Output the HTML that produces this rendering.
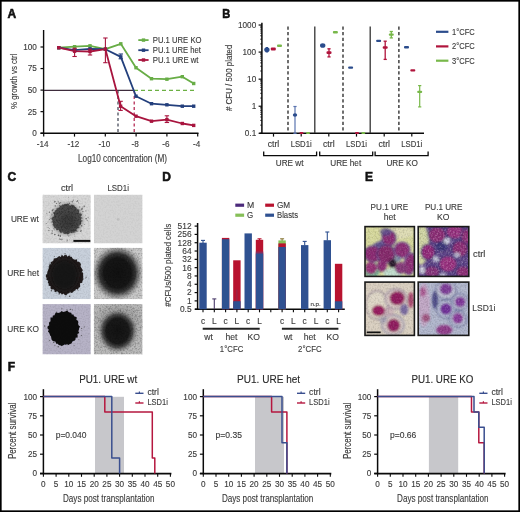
<!DOCTYPE html>
<html><head><meta charset="utf-8"><title>Figure</title>
<style>html,body{margin:0;padding:0;background:#fff;width:520px;height:512px;overflow:hidden}svg{display:block;filter:blur(0.25px)}</style></head>
<body>
<svg width="520" height="512" viewBox="0 0 520 512" font-family='"Liberation Sans", sans-serif'>
<defs>
<filter id="noise" x="0" y="0" width="100%" height="100%"><feTurbulence type="fractalNoise" baseFrequency="0.6" numOctaves="2" seed="3"/><feColorMatrix type="matrix" values="0 0 0 0 0  0 0 0 0 0  0 0 0 0 0  0 0 0 -2.6 1.5"/><feGaussianBlur stdDeviation="0.35"/></filter>
<filter id="noiseW" x="0" y="0" width="100%" height="100%"><feTurbulence type="fractalNoise" baseFrequency="0.6" numOctaves="2" seed="7"/><feColorMatrix type="matrix" values="0 0 0 0 1  0 0 0 0 1  0 0 0 0 1  0 0 0 -2.4 1.3"/><feGaussianBlur stdDeviation="0.4"/></filter>
<filter id="rough" x="-30%" y="-30%" width="160%" height="160%"><feTurbulence type="fractalNoise" baseFrequency="0.25" numOctaves="2" seed="11" result="t"/><feDisplacementMap in="SourceGraphic" in2="t" scale="5" xChannelSelector="R" yChannelSelector="G"/><feGaussianBlur stdDeviation="0.5"/></filter>
<filter id="rough2" x="-30%" y="-30%" width="160%" height="160%"><feTurbulence type="fractalNoise" baseFrequency="0.4" numOctaves="2" seed="5" result="t"/><feDisplacementMap in="SourceGraphic" in2="t" scale="3.5" xChannelSelector="R" yChannelSelector="G"/><feGaussianBlur stdDeviation="0.4"/></filter>
<filter id="b05"><feGaussianBlur stdDeviation="0.5"/></filter>
<filter id="b1"><feGaussianBlur stdDeviation="1"/></filter>
<filter id="b15"><feGaussianBlur stdDeviation="1.5"/></filter>
<filter id="b2"><feGaussianBlur stdDeviation="2"/></filter>
<filter id="b3"><feGaussianBlur stdDeviation="3"/></filter>
<radialGradient id="g11"><stop offset="0" stop-color="#353535" stop-opacity="1"/><stop offset="0.55" stop-color="#3e3e3e" stop-opacity="1"/><stop offset="0.72" stop-color="#5a5a5a" stop-opacity="0.9"/><stop offset="0.88" stop-color="#8a8a8a" stop-opacity="0.5"/><stop offset="1" stop-color="#d5d5d5" stop-opacity="0"/></radialGradient>
<radialGradient id="g22"><stop offset="0" stop-color="#111" stop-opacity="1"/><stop offset="0.52" stop-color="#161616" stop-opacity="1"/><stop offset="0.68" stop-color="#2e2e2e" stop-opacity="0.95"/><stop offset="0.84" stop-color="#6a6a6a" stop-opacity="0.55"/><stop offset="1" stop-color="#b8b8b8" stop-opacity="0"/></radialGradient>
<radialGradient id="g32"><stop offset="0" stop-color="#121212" stop-opacity="1"/><stop offset="0.55" stop-color="#1a1a1a" stop-opacity="1"/><stop offset="0.72" stop-color="#3a3a3a" stop-opacity="0.85"/><stop offset="0.88" stop-color="#808080" stop-opacity="0.4"/><stop offset="1" stop-color="#b0b0b0" stop-opacity="0"/></radialGradient>
<clipPath id="cc0"><rect x="42.4" y="194.6" width="48.4" height="48.9"/></clipPath>
<clipPath id="cc1"><rect x="93.8" y="194.6" width="48.8" height="48.9"/></clipPath>
<clipPath id="cc2"><rect x="42.4" y="247.8" width="48.4" height="51.4"/></clipPath>
<clipPath id="cc3"><rect x="93.8" y="247.8" width="48.8" height="51.4"/></clipPath>
<clipPath id="cc4"><rect x="42.4" y="304.1" width="48.4" height="50.4"/></clipPath>
<clipPath id="cc5"><rect x="93.8" y="304.1" width="48.8" height="50.4"/></clipPath>
<clipPath id="blob11"><circle cx="67" cy="219.2" r="15"/></clipPath>
<clipPath id="ec0"><rect x="365" y="226.6" width="49.4" height="49.8"/></clipPath>
<clipPath id="ec1"><rect x="418.2" y="226.6" width="50.6" height="49.8"/></clipPath>
<clipPath id="ec2"><rect x="365" y="282.1" width="49.4" height="53.3"/></clipPath>
<clipPath id="ec3"><rect x="418.2" y="282.1" width="50.6" height="53.3"/></clipPath>
</defs>
<rect width="520" height="512" fill="#fff"/>
<text x="7.6" y="17.8" font-size="12" font-weight="bold" fill="#111" stroke="#111" stroke-width="0.55">A</text>
<line x1="43.6" y1="30" x2="43.6" y2="133.5" stroke="#0a0a0a" stroke-width="1.4"/>
<line x1="40.5" y1="133.2" x2="198.5" y2="133.2" stroke="#0a0a0a" stroke-width="1.6"/>
<line x1="40.5" y1="133.2" x2="44" y2="133.2" stroke="#0a0a0a" stroke-width="1.2"/>
<text x="36.8" y="136.1" font-size="8.2" text-anchor="end" fill="#3a3a3a" stroke="#3a3a3a" stroke-width="0.12">0</text>
<line x1="40.5" y1="111.64999999999999" x2="44" y2="111.64999999999999" stroke="#0a0a0a" stroke-width="1.2"/>
<text x="36.8" y="114.55" font-size="8.2" text-anchor="end" fill="#3a3a3a" stroke="#3a3a3a" stroke-width="0.12">25</text>
<line x1="40.5" y1="90.1" x2="44" y2="90.1" stroke="#0a0a0a" stroke-width="1.2"/>
<text x="36.8" y="93.0" font-size="8.2" text-anchor="end" fill="#3a3a3a" stroke="#3a3a3a" stroke-width="0.12">50</text>
<line x1="40.5" y1="68.54999999999998" x2="44" y2="68.54999999999998" stroke="#0a0a0a" stroke-width="1.2"/>
<text x="36.8" y="71.44999999999999" font-size="8.2" text-anchor="end" fill="#3a3a3a" stroke="#3a3a3a" stroke-width="0.12">75</text>
<line x1="40.5" y1="46.999999999999986" x2="44" y2="46.999999999999986" stroke="#0a0a0a" stroke-width="1.2"/>
<text x="36.8" y="49.899999999999984" font-size="8.2" text-anchor="end" fill="#3a3a3a" stroke="#3a3a3a" stroke-width="0.12">100</text>
<line x1="43.7" y1="133" x2="43.7" y2="136.6" stroke="#0a0a0a" stroke-width="1.2"/>
<text x="42.7" y="147.2" font-size="8.2" text-anchor="middle" fill="#3a3a3a" stroke="#3a3a3a" stroke-width="0.12">-14</text>
<line x1="74.5" y1="133" x2="74.5" y2="136.6" stroke="#0a0a0a" stroke-width="1.2"/>
<text x="73.5" y="147.2" font-size="8.2" text-anchor="middle" fill="#3a3a3a" stroke="#3a3a3a" stroke-width="0.12">-12</text>
<line x1="105.30000000000001" y1="133" x2="105.30000000000001" y2="136.6" stroke="#0a0a0a" stroke-width="1.2"/>
<text x="104.30000000000001" y="147.2" font-size="8.2" text-anchor="middle" fill="#3a3a3a" stroke="#3a3a3a" stroke-width="0.12">-10</text>
<line x1="136.10000000000002" y1="133" x2="136.10000000000002" y2="136.6" stroke="#0a0a0a" stroke-width="1.2"/>
<text x="135.10000000000002" y="147.2" font-size="8.2" text-anchor="middle" fill="#3a3a3a" stroke="#3a3a3a" stroke-width="0.12">-8</text>
<line x1="166.9" y1="133" x2="166.9" y2="136.6" stroke="#0a0a0a" stroke-width="1.2"/>
<text x="165.9" y="147.2" font-size="8.2" text-anchor="middle" fill="#3a3a3a" stroke="#3a3a3a" stroke-width="0.12">-6</text>
<line x1="197.7" y1="133" x2="197.7" y2="136.6" stroke="#0a0a0a" stroke-width="1.2"/>
<text x="196.7" y="147.2" font-size="8.2" text-anchor="middle" fill="#3a3a3a" stroke="#3a3a3a" stroke-width="0.12">-4</text>
<text x="78" y="161.7" font-size="10.2" textLength="89" lengthAdjust="spacingAndGlyphs" fill="#3a3a3a" stroke="#3a3a3a" stroke-width="0.12">Log10 concentration (M)</text>
<text x="17.2" y="109" font-size="9" textLength="55.5" lengthAdjust="spacingAndGlyphs" transform="rotate(-90 17.2 109)" fill="#3a3a3a" stroke="#3a3a3a" stroke-width="0.12">% growth vs ctrl</text>
<line x1="44" y1="90.4" x2="134" y2="90.4" stroke="#3e2c3c" stroke-width="1.3"/>
<line x1="134" y1="90.4" x2="196.5" y2="90.4" stroke="#6cb043" stroke-width="1.2" stroke-dasharray="4 3"/>
<line x1="118" y1="90.4" x2="118" y2="133" stroke="#3b3f4f" stroke-width="1.2" stroke-dasharray="3 2.5"/>
<line x1="134.2" y1="90.4" x2="134.2" y2="133" stroke="#b01b48" stroke-width="1.2" stroke-dasharray="3 2.5"/>
<polyline points="58.8,47.7 74.6,46.7 90.0,45.8 105.4,49.2 120.8,43.8 136.0,67.7 151.5,78.7 166.9,79.2 182.3,76.7 193.7,83.5" fill="none" stroke="#68ad46" stroke-width="1.8" stroke-linejoin="round"/>
<polyline points="58.8,47.7 74.6,50.2 90.0,48.8 105.4,49.2 120.8,56.9 136.0,96.2 151.5,103.7 166.9,104.8 182.3,106.2 193.7,106.2" fill="none" stroke="#233f7c" stroke-width="1.8" stroke-linejoin="round"/>
<polyline points="58.8,47.7 74.6,51.2 90.0,51.5 105.4,49.2 120.6,106.2 136.0,116.2 151.5,121.2 166.9,119.6 182.3,123.5 193.7,125.4" fill="none" stroke="#a8143e" stroke-width="1.8" stroke-linejoin="round"/>
<rect x="57.099999999999994" y="46.0" width="3.4" height="3.4" fill="#68ad46"/>
<rect x="72.89999999999999" y="45.0" width="3.4" height="3.4" fill="#68ad46"/>
<rect x="88.3" y="44.099999999999994" width="3.4" height="3.4" fill="#68ad46"/>
<rect x="103.7" y="47.5" width="3.4" height="3.4" fill="#68ad46"/>
<rect x="119.1" y="42.099999999999994" width="3.4" height="3.4" fill="#68ad46"/>
<rect x="134.3" y="66.0" width="3.4" height="3.4" fill="#68ad46"/>
<rect x="149.8" y="77.0" width="3.4" height="3.4" fill="#68ad46"/>
<rect x="165.20000000000002" y="77.5" width="3.4" height="3.4" fill="#68ad46"/>
<rect x="180.60000000000002" y="75.0" width="3.4" height="3.4" fill="#68ad46"/>
<rect x="192.0" y="81.8" width="3.4" height="3.4" fill="#68ad46"/>
<rect x="57.099999999999994" y="46.0" width="3.4" height="3.4" fill="#233f7c"/>
<rect x="72.89999999999999" y="48.5" width="3.4" height="3.4" fill="#233f7c"/>
<rect x="88.3" y="47.099999999999994" width="3.4" height="3.4" fill="#233f7c"/>
<rect x="103.7" y="47.5" width="3.4" height="3.4" fill="#233f7c"/>
<rect x="119.1" y="55.199999999999996" width="3.4" height="3.4" fill="#233f7c"/>
<rect x="134.3" y="94.5" width="3.4" height="3.4" fill="#233f7c"/>
<rect x="149.8" y="102.0" width="3.4" height="3.4" fill="#233f7c"/>
<rect x="165.20000000000002" y="103.1" width="3.4" height="3.4" fill="#233f7c"/>
<rect x="180.60000000000002" y="104.5" width="3.4" height="3.4" fill="#233f7c"/>
<rect x="192.0" y="104.5" width="3.4" height="3.4" fill="#233f7c"/>
<rect x="57.099999999999994" y="46.0" width="3.4" height="3.4" fill="#a8143e"/>
<rect x="72.89999999999999" y="49.5" width="3.4" height="3.4" fill="#a8143e"/>
<rect x="88.3" y="49.8" width="3.4" height="3.4" fill="#a8143e"/>
<rect x="103.7" y="47.5" width="3.4" height="3.4" fill="#a8143e"/>
<rect x="118.89999999999999" y="104.5" width="3.4" height="3.4" fill="#a8143e"/>
<rect x="134.3" y="114.5" width="3.4" height="3.4" fill="#a8143e"/>
<rect x="149.8" y="119.5" width="3.4" height="3.4" fill="#a8143e"/>
<rect x="165.20000000000002" y="117.89999999999999" width="3.4" height="3.4" fill="#a8143e"/>
<rect x="180.60000000000002" y="121.8" width="3.4" height="3.4" fill="#a8143e"/>
<rect x="192.0" y="123.7" width="3.4" height="3.4" fill="#a8143e"/>
<line x1="74.6" y1="48.3" x2="74.6" y2="56.5" stroke="#a8143e" stroke-width="1.1"/>
<line x1="72.39999999999999" y1="48.3" x2="76.8" y2="48.3" stroke="#a8143e" stroke-width="1.1"/>
<line x1="72.39999999999999" y1="56.5" x2="76.8" y2="56.5" stroke="#a8143e" stroke-width="1.1"/>
<line x1="90" y1="49.2" x2="90" y2="55" stroke="#a8143e" stroke-width="1.1"/>
<line x1="87.8" y1="49.2" x2="92.2" y2="49.2" stroke="#a8143e" stroke-width="1.1"/>
<line x1="87.8" y1="55" x2="92.2" y2="55" stroke="#a8143e" stroke-width="1.1"/>
<line x1="105.4" y1="38" x2="105.4" y2="62.7" stroke="#a8143e" stroke-width="1.1"/>
<line x1="103.2" y1="38" x2="107.60000000000001" y2="38" stroke="#a8143e" stroke-width="1.1"/>
<line x1="103.2" y1="62.7" x2="107.60000000000001" y2="62.7" stroke="#a8143e" stroke-width="1.1"/>
<line x1="120.6" y1="101.3" x2="120.6" y2="110.4" stroke="#a8143e" stroke-width="1.1"/>
<line x1="118.39999999999999" y1="101.3" x2="122.8" y2="101.3" stroke="#a8143e" stroke-width="1.1"/>
<line x1="118.39999999999999" y1="110.4" x2="122.8" y2="110.4" stroke="#a8143e" stroke-width="1.1"/>
<line x1="166.9" y1="115.8" x2="166.9" y2="122.5" stroke="#a8143e" stroke-width="1.1"/>
<line x1="164.70000000000002" y1="115.8" x2="169.1" y2="115.8" stroke="#a8143e" stroke-width="1.1"/>
<line x1="164.70000000000002" y1="122.5" x2="169.1" y2="122.5" stroke="#a8143e" stroke-width="1.1"/>
<line x1="120.8" y1="54" x2="120.8" y2="58.8" stroke="#233f7c" stroke-width="1.1"/>
<line x1="118.6" y1="54" x2="123.0" y2="54" stroke="#233f7c" stroke-width="1.1"/>
<line x1="118.6" y1="58.8" x2="123.0" y2="58.8" stroke="#233f7c" stroke-width="1.1"/>
<line x1="138.3" y1="40.1" x2="148.6" y2="40.1" stroke="#68ad46" stroke-width="1.8"/>
<rect x="141.8" y="38.4" width="3.4" height="3.4" fill="#68ad46"/>
<text x="152.8" y="42.7" font-size="8.4" textLength="48.7" lengthAdjust="spacingAndGlyphs" fill="#3a3a3a" stroke="#3a3a3a" stroke-width="0.12">PU.1 URE KO</text>
<line x1="138.3" y1="50.2" x2="148.6" y2="50.2" stroke="#233f7c" stroke-width="1.8"/>
<rect x="141.8" y="48.5" width="3.4" height="3.4" fill="#233f7c"/>
<text x="152.8" y="52.800000000000004" font-size="8.4" textLength="48.2" lengthAdjust="spacingAndGlyphs" fill="#3a3a3a" stroke="#3a3a3a" stroke-width="0.12">PU.1 URE het</text>
<line x1="138.3" y1="60.0" x2="148.6" y2="60.0" stroke="#a8143e" stroke-width="1.8"/>
<rect x="141.8" y="58.3" width="3.4" height="3.4" fill="#a8143e"/>
<text x="152.8" y="62.6" font-size="8.4" textLength="45.7" lengthAdjust="spacingAndGlyphs" fill="#3a3a3a" stroke="#3a3a3a" stroke-width="0.12">PU.1 URE wt</text>
<text x="222.2" y="17.8" font-size="12" font-weight="bold" textLength="8" lengthAdjust="spacingAndGlyphs" fill="#111" stroke="#111" stroke-width="0.55">B</text>
<line x1="261.9" y1="22.7" x2="261.9" y2="133.8" stroke="#0a0a0a" stroke-width="1.5"/>
<line x1="259.5" y1="133.3" x2="424" y2="133.3" stroke="#0a0a0a" stroke-width="1.6"/>
<line x1="258.6" y1="133.3" x2="262" y2="133.3" stroke="#0a0a0a" stroke-width="1.2"/>
<text x="256.2" y="136.20000000000002" font-size="8.2" text-anchor="end" fill="#3a3a3a" stroke="#3a3a3a" stroke-width="0.12">0.1</text>
<line x1="260.2" y1="125.15111801737604" x2="262" y2="125.15111801737604" stroke="#0a0a0a" stroke-width="0.8"/>
<line x1="260.2" y1="120.38432763473875" x2="262" y2="120.38432763473875" stroke="#0a0a0a" stroke-width="0.8"/>
<line x1="260.2" y1="117.00223603475207" x2="262" y2="117.00223603475207" stroke="#0a0a0a" stroke-width="0.8"/>
<line x1="260.2" y1="114.37888198262398" x2="262" y2="114.37888198262398" stroke="#0a0a0a" stroke-width="0.8"/>
<line x1="260.2" y1="112.23544565211478" x2="262" y2="112.23544565211478" stroke="#0a0a0a" stroke-width="0.8"/>
<line x1="260.2" y1="110.42319605681408" x2="262" y2="110.42319605681408" stroke="#0a0a0a" stroke-width="0.8"/>
<line x1="260.2" y1="108.8533540521281" x2="262" y2="108.8533540521281" stroke="#0a0a0a" stroke-width="0.8"/>
<line x1="260.2" y1="107.4686552694775" x2="262" y2="107.4686552694775" stroke="#0a0a0a" stroke-width="0.8"/>
<line x1="258.6" y1="106.23000000000002" x2="262" y2="106.23000000000002" stroke="#0a0a0a" stroke-width="1.2"/>
<text x="256.2" y="109.13000000000002" font-size="8.2" text-anchor="end" fill="#3a3a3a" stroke="#3a3a3a" stroke-width="0.12">1</text>
<line x1="260.2" y1="98.08111801737604" x2="262" y2="98.08111801737604" stroke="#0a0a0a" stroke-width="0.8"/>
<line x1="260.2" y1="93.31432763473876" x2="262" y2="93.31432763473876" stroke="#0a0a0a" stroke-width="0.8"/>
<line x1="260.2" y1="89.93223603475207" x2="262" y2="89.93223603475207" stroke="#0a0a0a" stroke-width="0.8"/>
<line x1="260.2" y1="87.30888198262397" x2="262" y2="87.30888198262397" stroke="#0a0a0a" stroke-width="0.8"/>
<line x1="260.2" y1="85.16544565211478" x2="262" y2="85.16544565211478" stroke="#0a0a0a" stroke-width="0.8"/>
<line x1="260.2" y1="83.35319605681408" x2="262" y2="83.35319605681408" stroke="#0a0a0a" stroke-width="0.8"/>
<line x1="260.2" y1="81.78335405212809" x2="262" y2="81.78335405212809" stroke="#0a0a0a" stroke-width="0.8"/>
<line x1="260.2" y1="80.39865526947749" x2="262" y2="80.39865526947749" stroke="#0a0a0a" stroke-width="0.8"/>
<line x1="258.6" y1="79.16000000000001" x2="262" y2="79.16000000000001" stroke="#0a0a0a" stroke-width="1.2"/>
<text x="256.2" y="82.06000000000002" font-size="8.2" text-anchor="end" fill="#3a3a3a" stroke="#3a3a3a" stroke-width="0.12">10</text>
<line x1="260.2" y1="71.01111801737605" x2="262" y2="71.01111801737605" stroke="#0a0a0a" stroke-width="0.8"/>
<line x1="260.2" y1="66.24432763473874" x2="262" y2="66.24432763473874" stroke="#0a0a0a" stroke-width="0.8"/>
<line x1="260.2" y1="62.86223603475207" x2="262" y2="62.86223603475207" stroke="#0a0a0a" stroke-width="0.8"/>
<line x1="260.2" y1="60.23888198262398" x2="262" y2="60.23888198262398" stroke="#0a0a0a" stroke-width="0.8"/>
<line x1="260.2" y1="58.095445652114776" x2="262" y2="58.095445652114776" stroke="#0a0a0a" stroke-width="0.8"/>
<line x1="260.2" y1="56.28319605681408" x2="262" y2="56.28319605681408" stroke="#0a0a0a" stroke-width="0.8"/>
<line x1="260.2" y1="54.713354052128096" x2="262" y2="54.713354052128096" stroke="#0a0a0a" stroke-width="0.8"/>
<line x1="260.2" y1="53.328655269477494" x2="262" y2="53.328655269477494" stroke="#0a0a0a" stroke-width="0.8"/>
<line x1="258.6" y1="52.09" x2="262" y2="52.09" stroke="#0a0a0a" stroke-width="1.2"/>
<text x="256.2" y="54.99" font-size="8.2" text-anchor="end" fill="#3a3a3a" stroke="#3a3a3a" stroke-width="0.12">100</text>
<line x1="260.2" y1="43.94111801737604" x2="262" y2="43.94111801737604" stroke="#0a0a0a" stroke-width="0.8"/>
<line x1="260.2" y1="39.174327634738745" x2="262" y2="39.174327634738745" stroke="#0a0a0a" stroke-width="0.8"/>
<line x1="260.2" y1="35.792236034752065" x2="262" y2="35.792236034752065" stroke="#0a0a0a" stroke-width="0.8"/>
<line x1="260.2" y1="33.16888198262399" x2="262" y2="33.16888198262399" stroke="#0a0a0a" stroke-width="0.8"/>
<line x1="260.2" y1="31.025445652114783" x2="262" y2="31.025445652114783" stroke="#0a0a0a" stroke-width="0.8"/>
<line x1="260.2" y1="29.21319605681407" x2="262" y2="29.21319605681407" stroke="#0a0a0a" stroke-width="0.8"/>
<line x1="260.2" y1="27.64335405212809" x2="262" y2="27.64335405212809" stroke="#0a0a0a" stroke-width="0.8"/>
<line x1="260.2" y1="26.258655269477487" x2="262" y2="26.258655269477487" stroke="#0a0a0a" stroke-width="0.8"/>
<line x1="258.6" y1="25.02000000000001" x2="262" y2="25.02000000000001" stroke="#0a0a0a" stroke-width="1.2"/>
<text x="256.2" y="27.92000000000001" font-size="8.2" text-anchor="end" fill="#3a3a3a" stroke="#3a3a3a" stroke-width="0.12">1000</text>
<text x="231.6" y="111" font-size="9.2" textLength="66.4" lengthAdjust="spacingAndGlyphs" transform="rotate(-90 231.6 111)" fill="#3a3a3a" stroke="#3a3a3a" stroke-width="0.12"># CFU / 500 plated</text>
<line x1="288" y1="26.5" x2="288" y2="133" stroke="#222" stroke-width="1.3" stroke-dasharray="3.2 2.4"/>
<line x1="343" y1="26.5" x2="343" y2="133" stroke="#222" stroke-width="1.3" stroke-dasharray="3.2 2.4"/>
<line x1="398.9" y1="26.5" x2="398.9" y2="133" stroke="#222" stroke-width="1.3" stroke-dasharray="3.2 2.4"/>
<line x1="314.8" y1="26.4" x2="314.8" y2="133" stroke="#333" stroke-width="1.3"/>
<line x1="370.2" y1="26.4" x2="370.2" y2="133" stroke="#333" stroke-width="1.3"/>
<line x1="273.5" y1="133.3" x2="273.5" y2="136.6" stroke="#0a0a0a" stroke-width="1.2"/>
<text x="273.5" y="147.2" font-size="8.2" text-anchor="middle" textLength="11.6" lengthAdjust="spacingAndGlyphs" fill="#3a3a3a" stroke="#3a3a3a" stroke-width="0.12">ctrl</text>
<line x1="301.2" y1="133.3" x2="301.2" y2="136.6" stroke="#0a0a0a" stroke-width="1.2"/>
<text x="301.2" y="147.2" font-size="8.2" text-anchor="middle" textLength="21" lengthAdjust="spacingAndGlyphs" fill="#3a3a3a" stroke="#3a3a3a" stroke-width="0.12">LSD1i</text>
<line x1="328.8" y1="133.3" x2="328.8" y2="136.6" stroke="#0a0a0a" stroke-width="1.2"/>
<text x="328.8" y="147.2" font-size="8.2" text-anchor="middle" textLength="11.6" lengthAdjust="spacingAndGlyphs" fill="#3a3a3a" stroke="#3a3a3a" stroke-width="0.12">ctrl</text>
<line x1="356.5" y1="133.3" x2="356.5" y2="136.6" stroke="#0a0a0a" stroke-width="1.2"/>
<text x="356.5" y="147.2" font-size="8.2" text-anchor="middle" textLength="21" lengthAdjust="spacingAndGlyphs" fill="#3a3a3a" stroke="#3a3a3a" stroke-width="0.12">LSD1i</text>
<line x1="384.2" y1="133.3" x2="384.2" y2="136.6" stroke="#0a0a0a" stroke-width="1.2"/>
<text x="384.2" y="147.2" font-size="8.2" text-anchor="middle" textLength="11.6" lengthAdjust="spacingAndGlyphs" fill="#3a3a3a" stroke="#3a3a3a" stroke-width="0.12">ctrl</text>
<line x1="411.8" y1="133.3" x2="411.8" y2="136.6" stroke="#0a0a0a" stroke-width="1.2"/>
<text x="411.8" y="147.2" font-size="8.2" text-anchor="middle" textLength="21" lengthAdjust="spacingAndGlyphs" fill="#3a3a3a" stroke="#3a3a3a" stroke-width="0.12">LSD1i</text>
<polyline points="263.7,151.4 263.7,155.6 316.6,155.6 316.6,151.4" fill="none" stroke="#0a0a0a" stroke-width="1.3"/>
<text x="289.6" y="166.2" font-size="8.2" text-anchor="middle" fill="#3a3a3a" stroke="#3a3a3a" stroke-width="0.12">URE wt</text>
<polyline points="319.7,151.4 319.7,155.6 372.7,155.6 372.7,151.4" fill="none" stroke="#0a0a0a" stroke-width="1.3"/>
<text x="345.7" y="166.2" font-size="8.2" text-anchor="middle" fill="#3a3a3a" stroke="#3a3a3a" stroke-width="0.12">URE het</text>
<polyline points="375.1,151.4 375.1,155.6 428.1,155.6 428.1,151.4" fill="none" stroke="#0a0a0a" stroke-width="1.3"/>
<text x="402.1" y="166.2" font-size="8.2" text-anchor="middle" fill="#3a3a3a" stroke="#3a3a3a" stroke-width="0.12">URE KO</text>
<ellipse cx="266.9" cy="49.7" rx="2.6999999999999997" ry="2.3" fill="#2b4c8c"/>
<line x1="266.9" y1="47.5" x2="266.9" y2="52" stroke="#2b4c8c" stroke-width="1"/>
<line x1="265.7" y1="47.5" x2="268.09999999999997" y2="47.5" stroke="#2b4c8c" stroke-width="1"/>
<line x1="265.7" y1="52" x2="268.09999999999997" y2="52" stroke="#2b4c8c" stroke-width="1"/>
<rect x="270.8" y="47.4" width="5" height="3" rx="1" fill="#b0143c"/>
<rect x="277.0" y="44.599999999999994" width="5" height="2.4" rx="1" fill="#78b84a"/>
<line x1="295" y1="106.5" x2="295" y2="133.3" stroke="#5a74b0" stroke-width="1.2"/>
<line x1="293.4" y1="106.5" x2="296.6" y2="106.5" stroke="#5a74b0" stroke-width="1.2"/>
<line x1="293.4" y1="133.3" x2="296.6" y2="133.3" stroke="#5a74b0" stroke-width="1.2"/>
<ellipse cx="295" cy="115" rx="2.2" ry="1.8" fill="#2b4c8c"/>
<rect x="299.5" y="131.9" width="4" height="2.2" rx="1" fill="#b0143c"/>
<rect x="306.0" y="131.9" width="4" height="2.2" rx="1" fill="#78b84a"/>
<ellipse cx="322.7" cy="45.5" rx="2.6999999999999997" ry="2.3" fill="#2b4c8c"/>
<line x1="329" y1="48.8" x2="329" y2="56.9" stroke="#b0143c" stroke-width="1.3"/>
<line x1="327.4" y1="48.8" x2="330.6" y2="48.8" stroke="#b0143c" stroke-width="1.3"/>
<line x1="327.4" y1="56.9" x2="330.6" y2="56.9" stroke="#b0143c" stroke-width="1.3"/>
<rect x="326.5" y="51.300000000000004" width="5" height="2.6" rx="1" fill="#b0143c"/>
<rect x="332.9" y="31.099999999999998" width="5" height="2.4" rx="1" fill="#78b84a"/>
<rect x="348.1" y="66.39999999999999" width="5" height="2.4" rx="1" fill="#2b4c8c"/>
<rect x="355.0" y="131.9" width="4" height="2.2" rx="1" fill="#b0143c"/>
<rect x="361.3" y="131.9" width="4" height="2.2" rx="1" fill="#78b84a"/>
<rect x="376.1" y="39.699999999999996" width="5" height="2.4" rx="1" fill="#2b4c8c"/>
<line x1="385.2" y1="41.2" x2="385.2" y2="59.4" stroke="#b0143c" stroke-width="1.3"/>
<line x1="383.59999999999997" y1="41.2" x2="386.8" y2="41.2" stroke="#b0143c" stroke-width="1.3"/>
<line x1="383.59999999999997" y1="59.4" x2="386.8" y2="59.4" stroke="#b0143c" stroke-width="1.3"/>
<rect x="382.7" y="46.3" width="5" height="2.4" rx="1" fill="#b0143c"/>
<line x1="391.3" y1="31.5" x2="391.3" y2="37.9" stroke="#78b84a" stroke-width="1.3"/>
<line x1="389.7" y1="31.5" x2="392.90000000000003" y2="31.5" stroke="#78b84a" stroke-width="1.3"/>
<line x1="389.7" y1="37.9" x2="392.90000000000003" y2="37.9" stroke="#78b84a" stroke-width="1.3"/>
<rect x="388.8" y="33.4" width="5" height="2.4" rx="1" fill="#78b84a"/>
<rect x="404.0" y="46.099999999999994" width="5" height="2.4" rx="1" fill="#2b4c8c"/>
<rect x="410.3" y="69.2" width="5" height="2.4" rx="1" fill="#b0143c"/>
<line x1="419.7" y1="85.6" x2="419.7" y2="106.9" stroke="#78b84a" stroke-width="1.2"/>
<line x1="418.09999999999997" y1="85.6" x2="421.3" y2="85.6" stroke="#78b84a" stroke-width="1.2"/>
<line x1="418.09999999999997" y1="106.9" x2="421.3" y2="106.9" stroke="#78b84a" stroke-width="1.2"/>
<rect x="417.2" y="90.80000000000001" width="5" height="2.2" rx="1" fill="#78b84a"/>
<line x1="436" y1="31.8" x2="448.4" y2="31.8" stroke="#2b4c8c" stroke-width="2.2"/>
<text x="452" y="34.6" font-size="8.2" textLength="22.7" lengthAdjust="spacingAndGlyphs" fill="#3a3a3a" stroke="#3a3a3a" stroke-width="0.12">1°CFC</text>
<line x1="436" y1="46.4" x2="448.4" y2="46.4" stroke="#b0143c" stroke-width="2.2"/>
<text x="452" y="49.199999999999996" font-size="8.2" textLength="22.7" lengthAdjust="spacingAndGlyphs" fill="#3a3a3a" stroke="#3a3a3a" stroke-width="0.12">2°CFC</text>
<line x1="436" y1="60.7" x2="448.4" y2="60.7" stroke="#78b84a" stroke-width="2.2"/>
<text x="452" y="63.5" font-size="8.2" textLength="22.7" lengthAdjust="spacingAndGlyphs" fill="#3a3a3a" stroke="#3a3a3a" stroke-width="0.12">3°CFC</text>
<text x="7.6" y="181.4" font-size="12" font-weight="bold" fill="#111" stroke="#111" stroke-width="0.55">C</text>
<text x="67" y="191.3" font-size="8.4" text-anchor="middle" textLength="12.2" lengthAdjust="spacingAndGlyphs" fill="#3a3a3a" stroke="#3a3a3a" stroke-width="0.12">ctrl</text>
<text x="118.2" y="191.3" font-size="8.4" text-anchor="middle" textLength="21.5" lengthAdjust="spacingAndGlyphs" fill="#3a3a3a" stroke="#3a3a3a" stroke-width="0.12">LSD1i</text>
<text x="10.9" y="222" font-size="8.6" textLength="28" lengthAdjust="spacingAndGlyphs" fill="#3a3a3a" stroke="#3a3a3a" stroke-width="0.12">URE wt</text>
<text x="7.2" y="276.2" font-size="8.6" textLength="31.8" lengthAdjust="spacingAndGlyphs" fill="#3a3a3a" stroke="#3a3a3a" stroke-width="0.12">URE het</text>
<text x="7.2" y="331.8" font-size="8.6" textLength="31.8" lengthAdjust="spacingAndGlyphs" fill="#3a3a3a" stroke="#3a3a3a" stroke-width="0.12">URE KO</text>
<g clip-path="url(#cc0)">
<rect x="42.4" y="194.6" width="48.4" height="48.9" fill="#d6d6d6"/>
<circle cx="67" cy="219" r="19" fill="url(#g11)" opacity="0.5"/>
<path d="M80.89,219.20 L81.54,220.51 L80.97,221.74 L81.21,223.12 L80.85,224.40 L79.16,225.05 L78.48,226.06 L79.36,228.18 L77.50,228.37 L76.59,229.24 L76.76,231.44 L74.95,231.24 L74.24,232.66 L72.68,232.48 L71.58,233.30 L70.05,232.55 L68.99,233.88 L67.69,234.54 L66.35,233.74 L64.98,234.12 L63.68,233.72 L62.83,232.03 L61.07,233.08 L60.03,232.15 L59.27,230.92 L58.64,229.69 L56.39,230.29 L56.13,228.70 L54.86,228.02 L53.80,227.09 L53.49,225.71 L52.51,224.64 L53.26,222.99 L52.05,221.91 L52.69,220.49 L51.49,219.20 L51.68,217.82 L53.65,216.78 L53.84,215.57 L54.04,214.34 L52.96,212.44 L54.68,211.84 L55.03,210.50 L56.43,209.96 L56.97,208.71 L58.12,208.07 L59.20,207.39 L60.04,206.26 L61.22,205.69 L62.23,204.52 L63.68,204.65 L64.92,203.85 L66.31,203.89 L67.70,203.58 L69.00,204.44 L70.05,205.83 L71.74,204.61 L73.12,204.88 L74.32,205.60 L75.08,206.96 L76.35,207.48 L76.56,209.20 L78.50,209.15 L78.87,210.58 L79.02,212.02 L79.15,213.35 L81.34,213.82 L82.07,215.04 L80.33,216.78 L82.14,217.84Z" fill="#4a4a4a" filter="url(#b05)"/>
<ellipse cx="68" cy="221" rx="8" ry="8" fill="#3a3a3a" filter="url(#b2)"/>
<rect x="42" y="194" width="50" height="50" filter="url(#noise)" opacity="0.25" clip-path="url(#blob11)"/>
<circle cx="68.1" cy="232.2" r="0.53" fill="#505050" opacity="0.48"/>
<circle cx="81.6" cy="225.7" r="0.76" fill="#505050" opacity="0.80"/>
<circle cx="68.4" cy="205.0" r="0.59" fill="#505050" opacity="0.54"/>
<circle cx="73.1" cy="230.7" r="0.45" fill="#505050" opacity="0.86"/>
<circle cx="76.5" cy="201.6" r="0.71" fill="#505050" opacity="0.50"/>
<circle cx="60.3" cy="236.2" r="0.68" fill="#505050" opacity="0.83"/>
<circle cx="76.4" cy="210.4" r="0.62" fill="#505050" opacity="0.74"/>
<circle cx="53.2" cy="218.7" r="0.56" fill="#505050" opacity="0.44"/>
<circle cx="85.9" cy="210.9" r="0.60" fill="#505050" opacity="0.55"/>
<circle cx="81.9" cy="209.6" r="0.75" fill="#505050" opacity="0.82"/>
<circle cx="50.9" cy="218.4" r="0.62" fill="#505050" opacity="0.62"/>
<circle cx="75.0" cy="232.0" r="0.72" fill="#505050" opacity="0.42"/>
<circle cx="84.5" cy="224.4" r="0.48" fill="#505050" opacity="0.67"/>
<circle cx="51.8" cy="222.0" r="0.80" fill="#505050" opacity="0.50"/>
<circle cx="55.0" cy="226.5" r="0.63" fill="#505050" opacity="0.54"/>
<circle cx="55.0" cy="234.5" r="0.49" fill="#505050" opacity="0.68"/>
<circle cx="77.7" cy="211.8" r="0.38" fill="#505050" opacity="0.51"/>
<circle cx="68.7" cy="201.1" r="0.46" fill="#505050" opacity="0.57"/>
<circle cx="74.3" cy="234.1" r="0.37" fill="#505050" opacity="0.75"/>
<circle cx="84.1" cy="206.1" r="0.68" fill="#505050" opacity="0.88"/>
<circle cx="81.8" cy="220.9" r="0.78" fill="#505050" opacity="0.79"/>
<circle cx="48.9" cy="230.6" r="0.63" fill="#505050" opacity="0.81"/>
<circle cx="63.3" cy="232.6" r="0.55" fill="#505050" opacity="0.47"/>
<circle cx="51.1" cy="233.8" r="0.50" fill="#505050" opacity="0.40"/>
<circle cx="80.2" cy="223.0" r="0.70" fill="#505050" opacity="0.58"/>
<circle cx="63.7" cy="231.8" r="0.79" fill="#505050" opacity="0.61"/>
<circle cx="70.3" cy="231.4" r="0.37" fill="#505050" opacity="0.48"/>
<circle cx="61.0" cy="207.1" r="0.37" fill="#505050" opacity="0.65"/>
<circle cx="67.1" cy="241.2" r="0.41" fill="#505050" opacity="0.66"/>
<circle cx="69.4" cy="203.3" r="0.79" fill="#505050" opacity="0.64"/>
<circle cx="67.8" cy="235.3" r="0.37" fill="#505050" opacity="0.61"/>
<circle cx="67.2" cy="240.1" r="0.72" fill="#505050" opacity="0.65"/>
<circle cx="81.3" cy="222.1" r="0.46" fill="#505050" opacity="0.50"/>
<circle cx="69.4" cy="239.8" r="0.41" fill="#505050" opacity="0.43"/>
<circle cx="82.9" cy="211.5" r="0.80" fill="#505050" opacity="0.60"/>
<circle cx="82.1" cy="208.4" r="0.71" fill="#505050" opacity="0.77"/>
<circle cx="54.1" cy="219.7" r="0.44" fill="#505050" opacity="0.84"/>
<circle cx="84.2" cy="206.7" r="0.50" fill="#505050" opacity="0.73"/>
<circle cx="72.6" cy="201.7" r="0.72" fill="#505050" opacity="0.66"/>
<circle cx="56.4" cy="203.6" r="0.47" fill="#505050" opacity="0.86"/>
<circle cx="79.3" cy="215.7" r="0.79" fill="#505050" opacity="0.88"/>
<circle cx="60.9" cy="208.4" r="0.75" fill="#505050" opacity="0.46"/>
<circle cx="85.3" cy="215.5" r="0.38" fill="#505050" opacity="0.48"/>
<circle cx="55.3" cy="205.9" r="0.69" fill="#505050" opacity="0.86"/>
<circle cx="69.4" cy="231.0" r="0.77" fill="#505050" opacity="0.41"/>
<circle cx="76.4" cy="210.0" r="0.71" fill="#505050" opacity="0.79"/>
<circle cx="79.6" cy="207.0" r="0.75" fill="#505050" opacity="0.50"/>
<circle cx="59.8" cy="205.7" r="0.75" fill="#505050" opacity="0.79"/>
<circle cx="50.0" cy="222.3" r="0.36" fill="#505050" opacity="0.42"/>
<circle cx="53.0" cy="209.8" r="0.74" fill="#505050" opacity="0.70"/>
<circle cx="77.1" cy="231.2" r="0.70" fill="#505050" opacity="0.66"/>
<circle cx="87.3" cy="220.5" r="0.72" fill="#505050" opacity="0.44"/>
<circle cx="51.8" cy="214.9" r="0.70" fill="#505050" opacity="0.56"/>
<circle cx="68.7" cy="236.0" r="0.78" fill="#505050" opacity="0.45"/>
<circle cx="80.7" cy="231.2" r="0.75" fill="#505050" opacity="0.66"/>
<circle cx="48.2" cy="227.5" r="0.70" fill="#505050" opacity="0.43"/>
<circle cx="77.3" cy="209.7" r="0.49" fill="#505050" opacity="0.82"/>
<circle cx="49.3" cy="228.6" r="0.43" fill="#505050" opacity="0.84"/>
<circle cx="73.0" cy="231.3" r="0.57" fill="#505050" opacity="0.57"/>
<circle cx="46.7" cy="213.7" r="0.67" fill="#505050" opacity="0.40"/>
<circle cx="60.4" cy="235.3" r="0.57" fill="#505050" opacity="0.76"/>
<circle cx="54.3" cy="220.5" r="0.46" fill="#505050" opacity="0.82"/>
<circle cx="54.8" cy="234.6" r="0.79" fill="#505050" opacity="0.71"/>
<circle cx="59.0" cy="203.0" r="0.49" fill="#505050" opacity="0.86"/>
<circle cx="46.3" cy="223.5" r="0.49" fill="#505050" opacity="0.83"/>
<circle cx="71.2" cy="201.6" r="0.55" fill="#505050" opacity="0.47"/>
<circle cx="69.1" cy="203.7" r="0.65" fill="#505050" opacity="0.47"/>
<circle cx="78.7" cy="225.9" r="0.71" fill="#505050" opacity="0.49"/>
<circle cx="79.8" cy="210.1" r="0.61" fill="#505050" opacity="0.58"/>
<circle cx="57.6" cy="210.3" r="0.53" fill="#505050" opacity="0.87"/>
<circle cx="74.9" cy="236.0" r="0.50" fill="#505050" opacity="0.55"/>
<circle cx="79.1" cy="221.0" r="0.78" fill="#505050" opacity="0.81"/>
<circle cx="73.3" cy="200.2" r="0.78" fill="#505050" opacity="0.48"/>
<circle cx="52.4" cy="210.6" r="0.61" fill="#505050" opacity="0.87"/>
<circle cx="68.4" cy="197.6" r="0.40" fill="#505050" opacity="0.73"/>
<circle cx="58.2" cy="201.8" r="0.63" fill="#505050" opacity="0.82"/>
<circle cx="60.1" cy="239.3" r="0.53" fill="#505050" opacity="0.70"/>
<circle cx="82.2" cy="207.7" r="0.49" fill="#505050" opacity="0.52"/>
<circle cx="58.5" cy="235.4" r="0.80" fill="#505050" opacity="0.85"/>
<circle cx="54.0" cy="228.6" r="0.72" fill="#505050" opacity="0.54"/>
<circle cx="56.7" cy="225.6" r="0.43" fill="#505050" opacity="0.67"/>
<circle cx="60.7" cy="202.2" r="0.51" fill="#505050" opacity="0.88"/>
<circle cx="57.3" cy="209.7" r="0.38" fill="#505050" opacity="0.89"/>
<circle cx="88.1" cy="217.6" r="0.62" fill="#505050" opacity="0.56"/>
<circle cx="79.2" cy="227.1" r="0.45" fill="#505050" opacity="0.86"/>
<circle cx="82.4" cy="206.8" r="0.42" fill="#505050" opacity="0.52"/>
<circle cx="60.5" cy="239.7" r="0.42" fill="#505050" opacity="0.80"/>
<circle cx="59.6" cy="203.4" r="0.78" fill="#505050" opacity="0.53"/>
<circle cx="53.6" cy="217.1" r="0.39" fill="#505050" opacity="0.42"/>
<circle cx="61.6" cy="231.3" r="0.38" fill="#505050" opacity="0.90"/>
<circle cx="61.9" cy="239.5" r="0.67" fill="#505050" opacity="0.77"/>
<circle cx="54.9" cy="201.4" r="0.75" fill="#505050" opacity="0.76"/>
<circle cx="49.4" cy="212.2" r="0.68" fill="#505050" opacity="0.68"/>
<circle cx="53.5" cy="219.0" r="0.73" fill="#505050" opacity="0.64"/>
<circle cx="79.5" cy="224.9" r="0.74" fill="#505050" opacity="0.53"/>
<circle cx="52.4" cy="231.1" r="0.74" fill="#505050" opacity="0.56"/>
<circle cx="54.7" cy="229.8" r="0.36" fill="#505050" opacity="0.84"/>
<circle cx="88.4" cy="221.8" r="0.42" fill="#505050" opacity="0.48"/>
<circle cx="78.7" cy="202.7" r="0.45" fill="#505050" opacity="0.68"/>
<circle cx="48.0" cy="222.0" r="0.43" fill="#505050" opacity="0.81"/>
<circle cx="86.1" cy="218.8" r="0.76" fill="#505050" opacity="0.87"/>
<circle cx="52.1" cy="233.3" r="0.73" fill="#505050" opacity="0.69"/>
<circle cx="81.2" cy="230.5" r="0.76" fill="#505050" opacity="0.55"/>
<circle cx="54.3" cy="202.5" r="0.62" fill="#505050" opacity="0.42"/>
<circle cx="57.2" cy="208.5" r="0.74" fill="#505050" opacity="0.73"/>
<circle cx="59.6" cy="238.8" r="0.63" fill="#505050" opacity="0.57"/>
<circle cx="77.6" cy="201.1" r="0.75" fill="#505050" opacity="0.84"/>
<circle cx="56.7" cy="203.3" r="0.62" fill="#505050" opacity="0.66"/>
<circle cx="82.5" cy="218.0" r="0.39" fill="#505050" opacity="0.76"/>
<circle cx="49.5" cy="219.4" r="0.62" fill="#505050" opacity="0.52"/>
<rect x="73.4" y="239.9" width="17" height="2" fill="#111"/>
<rect x="42.4" y="194.6" width="48.4" height="48.9" filter="url(#noise)" opacity="0.08"/>
</g>
<g clip-path="url(#cc1)">
<rect x="93.8" y="194.6" width="48.8" height="48.9" fill="#d3d3d3"/>
<circle cx="118.2" cy="219.3" r="1.3" fill="#c0c0c0"/>
<rect x="93.8" y="194.6" width="48.8" height="48.9" filter="url(#noise)" opacity="0.04"/>
</g>
<g clip-path="url(#cc2)">
<rect x="42.4" y="247.8" width="48.4" height="51.4" fill="#c8d0db"/>
<path d="M83.07,274.90 L83.27,276.47 L83.21,278.06 L83.23,279.69 L82.41,281.10 L82.27,282.74 L79.93,283.25 L80.08,285.05 L80.14,286.97 L78.73,287.79 L78.14,289.35 L75.95,289.04 L75.34,290.62 L73.92,291.02 L73.01,292.37 L71.75,293.08 L70.04,292.36 L68.86,293.22 L67.54,293.65 L66.28,295.31 L64.80,295.02 L63.45,293.55 L61.88,294.85 L60.78,293.04 L59.16,293.71 L58.22,292.11 L57.12,291.24 L54.98,292.27 L54.59,290.13 L53.51,289.22 L51.34,289.49 L50.50,288.13 L50.61,286.07 L48.60,285.65 L48.69,283.79 L47.82,282.52 L48.29,280.71 L46.37,279.69 L46.61,278.02 L45.85,276.52 L45.95,274.90 L47.29,273.41 L47.32,271.90 L48.00,270.53 L48.41,269.13 L49.04,267.83 L49.14,266.26 L49.26,264.59 L51.11,264.12 L50.82,261.97 L52.32,261.38 L53.38,260.41 L53.82,258.52 L55.42,258.31 L56.81,257.91 L57.93,256.92 L59.10,255.90 L60.82,256.95 L61.82,254.54 L63.47,256.57 L64.80,254.82 L66.27,254.66 L67.45,256.75 L69.15,255.28 L70.27,256.65 L71.75,256.71 L72.49,258.55 L73.69,259.18 L74.98,259.73 L77.13,259.26 L77.06,261.61 L78.91,261.85 L80.11,262.85 L80.96,264.17 L80.54,266.21 L81.14,267.57 L81.97,268.86 L82.88,270.20 L81.74,271.99 L83.28,273.32Z" fill="#221e1e" filter="url(#b05)"/>
<ellipse cx="64.5" cy="275" rx="14" ry="15.5" fill="#161414" filter="url(#b2)"/>
<circle cx="70.1" cy="291.4" r="0.70" fill="#333" opacity="0.85"/>
<circle cx="59.0" cy="258.3" r="0.79" fill="#333" opacity="0.81"/>
<circle cx="47.8" cy="273.9" r="0.73" fill="#333" opacity="0.71"/>
<circle cx="52.5" cy="263.0" r="0.68" fill="#333" opacity="0.42"/>
<circle cx="47.2" cy="277.3" r="0.51" fill="#333" opacity="0.85"/>
<circle cx="64.6" cy="253.8" r="0.48" fill="#333" opacity="0.59"/>
<circle cx="51.2" cy="264.4" r="0.54" fill="#333" opacity="0.89"/>
<circle cx="65.3" cy="253.6" r="0.48" fill="#333" opacity="0.75"/>
<circle cx="69.8" cy="255.0" r="0.55" fill="#333" opacity="0.49"/>
<circle cx="86.1" cy="277.3" r="0.77" fill="#333" opacity="0.54"/>
<circle cx="65.5" cy="255.9" r="0.63" fill="#333" opacity="0.82"/>
<circle cx="56.1" cy="293.0" r="0.47" fill="#333" opacity="0.66"/>
<circle cx="82.8" cy="278.3" r="0.48" fill="#333" opacity="0.86"/>
<circle cx="78.8" cy="290.3" r="0.39" fill="#333" opacity="0.89"/>
<circle cx="73.6" cy="290.0" r="0.45" fill="#333" opacity="0.87"/>
<circle cx="54.3" cy="256.2" r="0.57" fill="#333" opacity="0.46"/>
<circle cx="54.4" cy="291.1" r="0.80" fill="#333" opacity="0.48"/>
<circle cx="65.6" cy="296.1" r="0.40" fill="#333" opacity="0.89"/>
<circle cx="59.1" cy="293.9" r="0.65" fill="#333" opacity="0.85"/>
<circle cx="83.7" cy="284.6" r="0.43" fill="#333" opacity="0.76"/>
<circle cx="85.3" cy="278.4" r="0.43" fill="#333" opacity="0.50"/>
<circle cx="83.0" cy="278.9" r="0.50" fill="#333" opacity="0.89"/>
<circle cx="50.1" cy="263.2" r="0.80" fill="#333" opacity="0.49"/>
<circle cx="69.6" cy="296.2" r="0.78" fill="#333" opacity="0.74"/>
<circle cx="81.9" cy="272.6" r="0.76" fill="#333" opacity="0.75"/>
<circle cx="54.4" cy="256.4" r="0.40" fill="#333" opacity="0.50"/>
<circle cx="77.4" cy="289.7" r="0.60" fill="#333" opacity="0.67"/>
<circle cx="51.4" cy="290.7" r="0.73" fill="#333" opacity="0.78"/>
<circle cx="82.1" cy="279.1" r="0.45" fill="#333" opacity="0.52"/>
<circle cx="48.7" cy="266.9" r="0.63" fill="#333" opacity="0.57"/>
<rect x="42.4" y="247.8" width="48.4" height="51.4" filter="url(#noise)" opacity="0.08"/>
</g>
<g clip-path="url(#cc3)">
<rect x="93.8" y="247.8" width="48.8" height="51.4" fill="#c8c8c8"/>
<ellipse cx="117.5" cy="273" rx="26.5" ry="28.5" fill="url(#g22)"/>
<circle cx="102.3" cy="288.5" r="0.58" fill="#444" opacity="0.28"/>
<circle cx="102.1" cy="292.5" r="0.36" fill="#444" opacity="0.21"/>
<circle cx="125.6" cy="293.8" r="0.52" fill="#444" opacity="0.58"/>
<circle cx="102.5" cy="271.7" r="0.39" fill="#444" opacity="0.49"/>
<circle cx="104.7" cy="281.3" r="0.41" fill="#444" opacity="0.39"/>
<circle cx="105.0" cy="286.7" r="0.34" fill="#444" opacity="0.21"/>
<circle cx="121.8" cy="249.2" r="0.43" fill="#444" opacity="0.25"/>
<circle cx="111.2" cy="291.4" r="0.57" fill="#444" opacity="0.39"/>
<circle cx="137.0" cy="268.2" r="0.35" fill="#444" opacity="0.45"/>
<circle cx="99.9" cy="259.0" r="0.52" fill="#444" opacity="0.21"/>
<circle cx="95.2" cy="280.6" r="0.34" fill="#444" opacity="0.22"/>
<circle cx="124.1" cy="287.4" r="0.43" fill="#444" opacity="0.33"/>
<circle cx="106.3" cy="259.5" r="0.40" fill="#444" opacity="0.47"/>
<circle cx="92.5" cy="264.5" r="0.58" fill="#444" opacity="0.30"/>
<circle cx="106.6" cy="289.1" r="0.46" fill="#444" opacity="0.35"/>
<circle cx="127.6" cy="259.1" r="0.44" fill="#444" opacity="0.25"/>
<circle cx="132.7" cy="257.3" r="0.60" fill="#444" opacity="0.26"/>
<circle cx="111.9" cy="251.0" r="0.32" fill="#444" opacity="0.53"/>
<circle cx="127.5" cy="260.9" r="0.58" fill="#444" opacity="0.51"/>
<circle cx="100.7" cy="259.0" r="0.38" fill="#444" opacity="0.22"/>
<circle cx="92.9" cy="275.2" r="0.36" fill="#444" opacity="0.39"/>
<circle cx="112.5" cy="293.3" r="0.59" fill="#444" opacity="0.56"/>
<circle cx="112.5" cy="290.0" r="0.30" fill="#444" opacity="0.41"/>
<circle cx="131.6" cy="252.3" r="0.32" fill="#444" opacity="0.37"/>
<circle cx="133.7" cy="280.7" r="0.57" fill="#444" opacity="0.31"/>
<circle cx="131.4" cy="250.5" r="0.55" fill="#444" opacity="0.28"/>
<circle cx="138.8" cy="259.2" r="0.60" fill="#444" opacity="0.20"/>
<circle cx="134.5" cy="271.9" r="0.46" fill="#444" opacity="0.37"/>
<circle cx="135.1" cy="283.4" r="0.50" fill="#444" opacity="0.45"/>
<circle cx="96.5" cy="270.1" r="0.51" fill="#444" opacity="0.23"/>
<circle cx="102.6" cy="277.6" r="0.33" fill="#444" opacity="0.50"/>
<circle cx="108.9" cy="287.6" r="0.38" fill="#444" opacity="0.43"/>
<circle cx="133.0" cy="286.2" r="0.32" fill="#444" opacity="0.58"/>
<circle cx="129.8" cy="290.9" r="0.46" fill="#444" opacity="0.37"/>
<circle cx="110.9" cy="288.8" r="0.53" fill="#444" opacity="0.41"/>
<circle cx="100.5" cy="267.7" r="0.49" fill="#444" opacity="0.27"/>
<circle cx="95.3" cy="273.9" r="0.46" fill="#444" opacity="0.43"/>
<circle cx="102.2" cy="264.5" r="0.59" fill="#444" opacity="0.47"/>
<circle cx="113.1" cy="246.3" r="0.44" fill="#444" opacity="0.33"/>
<circle cx="111.1" cy="288.3" r="0.39" fill="#444" opacity="0.33"/>
<circle cx="122.0" cy="290.7" r="0.39" fill="#444" opacity="0.35"/>
<circle cx="107.8" cy="256.3" r="0.56" fill="#444" opacity="0.52"/>
<circle cx="105.6" cy="292.6" r="0.35" fill="#444" opacity="0.24"/>
<circle cx="131.4" cy="271.0" r="0.30" fill="#444" opacity="0.55"/>
<circle cx="138.9" cy="271.9" r="0.47" fill="#444" opacity="0.29"/>
<circle cx="117.7" cy="297.1" r="0.42" fill="#444" opacity="0.30"/>
<circle cx="95.7" cy="279.7" r="0.39" fill="#444" opacity="0.24"/>
<circle cx="120.8" cy="256.8" r="0.32" fill="#444" opacity="0.20"/>
<circle cx="136.2" cy="270.7" r="0.52" fill="#444" opacity="0.42"/>
<circle cx="134.9" cy="268.6" r="0.40" fill="#444" opacity="0.47"/>
<circle cx="135.4" cy="271.6" r="0.53" fill="#444" opacity="0.43"/>
<circle cx="91.8" cy="273.1" r="0.43" fill="#444" opacity="0.49"/>
<circle cx="105.3" cy="280.9" r="0.42" fill="#444" opacity="0.28"/>
<circle cx="134.2" cy="274.5" r="0.34" fill="#444" opacity="0.38"/>
<circle cx="115.2" cy="248.5" r="0.57" fill="#444" opacity="0.33"/>
<circle cx="105.0" cy="249.9" r="0.42" fill="#444" opacity="0.57"/>
<circle cx="137.0" cy="286.6" r="0.56" fill="#444" opacity="0.59"/>
<circle cx="128.0" cy="251.8" r="0.43" fill="#444" opacity="0.49"/>
<circle cx="132.1" cy="257.0" r="0.49" fill="#444" opacity="0.57"/>
<circle cx="113.1" cy="289.1" r="0.31" fill="#444" opacity="0.55"/>
<circle cx="101.8" cy="255.5" r="0.37" fill="#444" opacity="0.27"/>
<circle cx="92.7" cy="274.8" r="0.41" fill="#444" opacity="0.37"/>
<circle cx="96.0" cy="283.4" r="0.34" fill="#444" opacity="0.55"/>
<circle cx="139.3" cy="273.2" r="0.53" fill="#444" opacity="0.39"/>
<circle cx="116.1" cy="254.2" r="0.34" fill="#444" opacity="0.34"/>
<circle cx="114.9" cy="294.0" r="0.47" fill="#444" opacity="0.46"/>
<circle cx="140.0" cy="268.0" r="0.54" fill="#444" opacity="0.59"/>
<circle cx="137.6" cy="261.6" r="0.40" fill="#444" opacity="0.40"/>
<circle cx="117.8" cy="248.1" r="0.57" fill="#444" opacity="0.50"/>
<circle cx="108.7" cy="256.6" r="0.49" fill="#444" opacity="0.27"/>
<circle cx="107.3" cy="258.6" r="0.31" fill="#444" opacity="0.58"/>
<circle cx="129.1" cy="258.6" r="0.31" fill="#444" opacity="0.53"/>
<circle cx="119.1" cy="255.8" r="0.55" fill="#444" opacity="0.54"/>
<circle cx="101.6" cy="263.7" r="0.32" fill="#444" opacity="0.23"/>
<circle cx="95.9" cy="279.7" r="0.49" fill="#444" opacity="0.29"/>
<circle cx="121.4" cy="257.4" r="0.48" fill="#444" opacity="0.27"/>
<circle cx="133.3" cy="272.1" r="0.54" fill="#444" opacity="0.29"/>
<circle cx="136.7" cy="273.2" r="0.40" fill="#444" opacity="0.43"/>
<circle cx="97.1" cy="261.0" r="0.57" fill="#444" opacity="0.34"/>
<circle cx="106.8" cy="259.9" r="0.38" fill="#444" opacity="0.24"/>
<circle cx="128.7" cy="257.7" r="0.51" fill="#444" opacity="0.55"/>
<circle cx="104.7" cy="282.4" r="0.37" fill="#444" opacity="0.40"/>
<circle cx="105.7" cy="281.1" r="0.56" fill="#444" opacity="0.46"/>
<circle cx="133.8" cy="254.1" r="0.52" fill="#444" opacity="0.53"/>
<circle cx="111.5" cy="253.2" r="0.55" fill="#444" opacity="0.57"/>
<circle cx="129.3" cy="281.3" r="0.35" fill="#444" opacity="0.38"/>
<circle cx="130.4" cy="256.2" r="0.56" fill="#444" opacity="0.35"/>
<circle cx="101.5" cy="264.7" r="0.49" fill="#444" opacity="0.31"/>
<circle cx="135.8" cy="272.4" r="0.47" fill="#444" opacity="0.55"/>
<circle cx="111.3" cy="296.0" r="0.54" fill="#444" opacity="0.26"/>
<circle cx="121.5" cy="246.7" r="0.59" fill="#444" opacity="0.48"/>
<circle cx="101.2" cy="284.5" r="0.50" fill="#444" opacity="0.45"/>
<circle cx="126.2" cy="294.3" r="0.46" fill="#444" opacity="0.23"/>
<circle cx="111.8" cy="285.5" r="0.44" fill="#444" opacity="0.24"/>
<circle cx="100.0" cy="268.3" r="0.55" fill="#444" opacity="0.51"/>
<circle cx="126.1" cy="293.4" r="0.47" fill="#444" opacity="0.31"/>
<circle cx="128.9" cy="264.0" r="0.42" fill="#444" opacity="0.44"/>
<circle cx="127.4" cy="288.5" r="0.57" fill="#444" opacity="0.34"/>
<circle cx="112.8" cy="255.8" r="0.59" fill="#444" opacity="0.59"/>
<circle cx="128.8" cy="291.4" r="0.40" fill="#444" opacity="0.21"/>
<circle cx="122.5" cy="293.6" r="0.44" fill="#444" opacity="0.41"/>
<circle cx="128.1" cy="283.1" r="0.41" fill="#444" opacity="0.41"/>
<circle cx="125.3" cy="254.0" r="0.40" fill="#444" opacity="0.57"/>
<circle cx="108.6" cy="250.0" r="0.54" fill="#444" opacity="0.39"/>
<circle cx="116.0" cy="286.8" r="0.50" fill="#444" opacity="0.50"/>
<circle cx="137.5" cy="257.1" r="0.45" fill="#444" opacity="0.40"/>
<circle cx="131.7" cy="268.2" r="0.41" fill="#444" opacity="0.42"/>
<circle cx="99.9" cy="258.8" r="0.35" fill="#444" opacity="0.40"/>
<circle cx="125.4" cy="288.1" r="0.35" fill="#444" opacity="0.33"/>
<circle cx="103.9" cy="258.1" r="0.35" fill="#444" opacity="0.39"/>
<circle cx="108.5" cy="256.1" r="0.38" fill="#444" opacity="0.37"/>
<circle cx="112.2" cy="257.9" r="0.50" fill="#444" opacity="0.22"/>
<circle cx="129.5" cy="261.1" r="0.55" fill="#444" opacity="0.21"/>
<circle cx="99.9" cy="272.2" r="0.53" fill="#444" opacity="0.51"/>
<circle cx="127.2" cy="281.9" r="0.52" fill="#444" opacity="0.37"/>
<circle cx="104.3" cy="284.5" r="0.41" fill="#444" opacity="0.43"/>
<circle cx="105.1" cy="281.5" r="0.44" fill="#444" opacity="0.60"/>
<circle cx="119.4" cy="249.0" r="0.58" fill="#444" opacity="0.38"/>
<circle cx="101.8" cy="289.4" r="0.33" fill="#444" opacity="0.51"/>
<circle cx="129.8" cy="288.7" r="0.45" fill="#444" opacity="0.51"/>
<rect x="93.8" y="247.8" width="48.8" height="51.4" filter="url(#noise)" opacity="0.2"/>
</g>
<g clip-path="url(#cc4)">
<rect x="42.4" y="304.1" width="48.4" height="50.4" fill="#b6b2c6"/>
<path d="M79.13,328.20 L78.90,329.72 L78.29,331.14 L79.30,332.98 L77.35,333.89 L77.67,335.67 L77.64,337.44 L75.61,337.80 L75.45,339.59 L74.56,340.81 L72.83,340.91 L72.11,342.35 L71.22,343.72 L69.76,343.92 L68.62,345.00 L67.01,344.28 L65.72,344.71 L64.36,344.58 L63.00,345.40 L61.51,346.11 L60.21,345.15 L58.75,345.10 L57.69,343.80 L56.14,343.79 L55.57,341.87 L54.28,341.31 L52.76,340.89 L51.71,339.82 L51.28,338.21 L51.05,336.59 L50.13,335.45 L49.69,334.03 L49.15,332.66 L47.88,331.39 L48.82,329.69 L47.48,328.20 L47.56,326.59 L49.26,325.29 L48.98,323.69 L49.20,322.16 L50.53,321.16 L50.51,319.46 L50.55,317.60 L52.57,317.41 L52.86,315.62 L54.48,315.36 L55.08,313.71 L56.01,312.34 L57.83,312.95 L59.19,312.81 L60.42,312.27 L61.61,311.07 L63.04,312.01 L64.36,311.87 L65.78,311.16 L67.32,310.58 L68.44,312.00 L69.72,312.58 L71.17,312.80 L71.82,314.55 L73.46,314.62 L73.99,316.26 L75.53,316.74 L76.93,317.53 L76.29,319.85 L77.76,320.69 L78.40,322.08 L78.01,323.82 L78.53,325.21 L80.05,326.57Z" fill="#0c0b0e" filter="url(#b05)"/>
<circle cx="81.6" cy="335.6" r="0.72" fill="#444" opacity="0.42"/>
<circle cx="56.7" cy="312.3" r="0.68" fill="#444" opacity="0.89"/>
<circle cx="81.7" cy="328.5" r="0.57" fill="#444" opacity="0.89"/>
<circle cx="78.0" cy="320.8" r="0.41" fill="#444" opacity="0.60"/>
<circle cx="70.3" cy="309.4" r="0.60" fill="#444" opacity="0.86"/>
<circle cx="72.4" cy="309.8" r="0.64" fill="#444" opacity="0.53"/>
<circle cx="61.8" cy="308.7" r="0.77" fill="#444" opacity="0.49"/>
<circle cx="81.2" cy="330.7" r="0.47" fill="#444" opacity="0.59"/>
<circle cx="81.4" cy="335.2" r="0.54" fill="#444" opacity="0.53"/>
<circle cx="78.9" cy="339.4" r="0.39" fill="#444" opacity="0.83"/>
<circle cx="60.3" cy="348.4" r="0.41" fill="#444" opacity="0.59"/>
<circle cx="67.0" cy="309.9" r="0.55" fill="#444" opacity="0.84"/>
<circle cx="74.1" cy="345.6" r="0.58" fill="#444" opacity="0.54"/>
<circle cx="53.5" cy="342.3" r="0.63" fill="#444" opacity="0.62"/>
<circle cx="44.6" cy="326.0" r="0.74" fill="#444" opacity="0.75"/>
<circle cx="58.2" cy="346.7" r="0.66" fill="#444" opacity="0.85"/>
<circle cx="49.6" cy="340.4" r="0.69" fill="#444" opacity="0.57"/>
<circle cx="54.9" cy="345.2" r="0.52" fill="#444" opacity="0.82"/>
<circle cx="53.9" cy="342.2" r="0.62" fill="#444" opacity="0.70"/>
<circle cx="84.4" cy="326.9" r="0.54" fill="#444" opacity="0.62"/>
<rect x="42.4" y="304.1" width="48.4" height="50.4" filter="url(#noise)" opacity="0.08"/>
</g>
<g clip-path="url(#cc5)">
<rect x="93.8" y="304.1" width="48.8" height="50.4" fill="#bababa"/>
<ellipse cx="118" cy="322" rx="22" ry="18" fill="#8a8a8a" opacity="0.4" filter="url(#b3)"/>
<ellipse cx="117.6" cy="331" rx="21" ry="23" fill="url(#g32)"/>
<circle cx="106.3" cy="306.7" r="0.48" fill="#3a3a3a" opacity="0.36"/>
<circle cx="134.6" cy="301.7" r="0.54" fill="#3a3a3a" opacity="0.50"/>
<circle cx="130.2" cy="314.4" r="0.58" fill="#3a3a3a" opacity="0.28"/>
<circle cx="133.9" cy="339.8" r="0.35" fill="#3a3a3a" opacity="0.30"/>
<circle cx="106.6" cy="316.5" r="0.42" fill="#3a3a3a" opacity="0.35"/>
<circle cx="130.3" cy="322.0" r="0.45" fill="#3a3a3a" opacity="0.39"/>
<circle cx="127.1" cy="342.9" r="0.41" fill="#3a3a3a" opacity="0.34"/>
<circle cx="98.3" cy="318.5" r="0.44" fill="#3a3a3a" opacity="0.38"/>
<circle cx="102.6" cy="311.7" r="0.34" fill="#3a3a3a" opacity="0.46"/>
<circle cx="96.3" cy="341.9" r="0.34" fill="#3a3a3a" opacity="0.42"/>
<circle cx="111.1" cy="349.1" r="0.55" fill="#3a3a3a" opacity="0.46"/>
<circle cx="93.7" cy="312.8" r="0.37" fill="#3a3a3a" opacity="0.60"/>
<circle cx="97.4" cy="336.3" r="0.34" fill="#3a3a3a" opacity="0.21"/>
<circle cx="129.1" cy="345.4" r="0.37" fill="#3a3a3a" opacity="0.52"/>
<circle cx="130.6" cy="346.7" r="0.57" fill="#3a3a3a" opacity="0.48"/>
<circle cx="140.2" cy="312.7" r="0.56" fill="#3a3a3a" opacity="0.22"/>
<circle cx="101.2" cy="326.6" r="0.43" fill="#3a3a3a" opacity="0.49"/>
<circle cx="116.1" cy="308.3" r="0.35" fill="#3a3a3a" opacity="0.23"/>
<circle cx="116.3" cy="295.4" r="0.33" fill="#3a3a3a" opacity="0.25"/>
<circle cx="136.0" cy="349.2" r="0.32" fill="#3a3a3a" opacity="0.43"/>
<circle cx="128.4" cy="314.6" r="0.50" fill="#3a3a3a" opacity="0.34"/>
<circle cx="105.6" cy="308.3" r="0.34" fill="#3a3a3a" opacity="0.56"/>
<circle cx="90.2" cy="327.9" r="0.48" fill="#3a3a3a" opacity="0.58"/>
<circle cx="110.6" cy="314.1" r="0.30" fill="#3a3a3a" opacity="0.60"/>
<circle cx="105.5" cy="300.3" r="0.55" fill="#3a3a3a" opacity="0.34"/>
<circle cx="111.7" cy="300.1" r="0.32" fill="#3a3a3a" opacity="0.42"/>
<circle cx="136.8" cy="316.4" r="0.54" fill="#3a3a3a" opacity="0.23"/>
<circle cx="100.6" cy="338.2" r="0.47" fill="#3a3a3a" opacity="0.54"/>
<circle cx="96.9" cy="329.3" r="0.46" fill="#3a3a3a" opacity="0.47"/>
<circle cx="101.8" cy="316.6" r="0.39" fill="#3a3a3a" opacity="0.55"/>
<circle cx="103.6" cy="346.5" r="0.38" fill="#3a3a3a" opacity="0.59"/>
<circle cx="121.8" cy="346.3" r="0.41" fill="#3a3a3a" opacity="0.55"/>
<circle cx="116.0" cy="307.1" r="0.37" fill="#3a3a3a" opacity="0.50"/>
<circle cx="103.8" cy="332.9" r="0.33" fill="#3a3a3a" opacity="0.49"/>
<circle cx="104.7" cy="300.6" r="0.32" fill="#3a3a3a" opacity="0.39"/>
<circle cx="130.9" cy="344.7" r="0.37" fill="#3a3a3a" opacity="0.29"/>
<circle cx="104.3" cy="320.9" r="0.54" fill="#3a3a3a" opacity="0.27"/>
<circle cx="115.4" cy="351.9" r="0.38" fill="#3a3a3a" opacity="0.32"/>
<circle cx="122.3" cy="301.3" r="0.54" fill="#3a3a3a" opacity="0.55"/>
<circle cx="130.9" cy="324.0" r="0.42" fill="#3a3a3a" opacity="0.38"/>
<circle cx="112.0" cy="353.2" r="0.42" fill="#3a3a3a" opacity="0.57"/>
<circle cx="135.2" cy="336.2" r="0.49" fill="#3a3a3a" opacity="0.51"/>
<circle cx="91.7" cy="330.8" r="0.39" fill="#3a3a3a" opacity="0.34"/>
<circle cx="123.2" cy="342.1" r="0.45" fill="#3a3a3a" opacity="0.49"/>
<circle cx="124.9" cy="346.5" r="0.43" fill="#3a3a3a" opacity="0.59"/>
<circle cx="93.0" cy="329.1" r="0.37" fill="#3a3a3a" opacity="0.56"/>
<circle cx="132.2" cy="330.1" r="0.49" fill="#3a3a3a" opacity="0.41"/>
<circle cx="96.3" cy="323.2" r="0.40" fill="#3a3a3a" opacity="0.46"/>
<circle cx="100.9" cy="340.9" r="0.51" fill="#3a3a3a" opacity="0.32"/>
<circle cx="119.7" cy="295.3" r="0.60" fill="#3a3a3a" opacity="0.23"/>
<circle cx="104.8" cy="334.5" r="0.35" fill="#3a3a3a" opacity="0.39"/>
<circle cx="120.3" cy="310.1" r="0.54" fill="#3a3a3a" opacity="0.54"/>
<circle cx="141.5" cy="321.6" r="0.36" fill="#3a3a3a" opacity="0.49"/>
<circle cx="103.3" cy="318.4" r="0.54" fill="#3a3a3a" opacity="0.33"/>
<circle cx="131.9" cy="299.4" r="0.42" fill="#3a3a3a" opacity="0.25"/>
<circle cx="123.7" cy="310.7" r="0.34" fill="#3a3a3a" opacity="0.55"/>
<circle cx="119.2" cy="344.1" r="0.42" fill="#3a3a3a" opacity="0.49"/>
<circle cx="123.7" cy="344.0" r="0.32" fill="#3a3a3a" opacity="0.30"/>
<circle cx="117.4" cy="299.1" r="0.48" fill="#3a3a3a" opacity="0.56"/>
<circle cx="134.1" cy="331.2" r="0.49" fill="#3a3a3a" opacity="0.34"/>
<circle cx="133.3" cy="325.1" r="0.59" fill="#3a3a3a" opacity="0.49"/>
<circle cx="105.9" cy="296.5" r="0.43" fill="#3a3a3a" opacity="0.33"/>
<circle cx="96.0" cy="337.3" r="0.55" fill="#3a3a3a" opacity="0.45"/>
<circle cx="123.8" cy="299.6" r="0.53" fill="#3a3a3a" opacity="0.25"/>
<circle cx="127.8" cy="304.6" r="0.40" fill="#3a3a3a" opacity="0.25"/>
<circle cx="105.7" cy="315.5" r="0.41" fill="#3a3a3a" opacity="0.42"/>
<circle cx="121.9" cy="343.2" r="0.32" fill="#3a3a3a" opacity="0.34"/>
<circle cx="125.3" cy="309.7" r="0.38" fill="#3a3a3a" opacity="0.25"/>
<circle cx="99.2" cy="308.7" r="0.36" fill="#3a3a3a" opacity="0.53"/>
<circle cx="131.7" cy="328.9" r="0.33" fill="#3a3a3a" opacity="0.51"/>
<circle cx="138.5" cy="339.8" r="0.36" fill="#3a3a3a" opacity="0.32"/>
<circle cx="138.1" cy="342.6" r="0.41" fill="#3a3a3a" opacity="0.57"/>
<circle cx="110.6" cy="302.4" r="0.44" fill="#3a3a3a" opacity="0.43"/>
<circle cx="93.8" cy="310.8" r="0.37" fill="#3a3a3a" opacity="0.27"/>
<circle cx="140.9" cy="327.7" r="0.49" fill="#3a3a3a" opacity="0.39"/>
<circle cx="133.4" cy="329.3" r="0.54" fill="#3a3a3a" opacity="0.31"/>
<circle cx="102.2" cy="312.2" r="0.35" fill="#3a3a3a" opacity="0.22"/>
<circle cx="139.3" cy="337.4" r="0.37" fill="#3a3a3a" opacity="0.40"/>
<circle cx="96.5" cy="313.3" r="0.35" fill="#3a3a3a" opacity="0.37"/>
<circle cx="118.7" cy="298.6" r="0.44" fill="#3a3a3a" opacity="0.46"/>
<circle cx="123.9" cy="295.1" r="0.46" fill="#3a3a3a" opacity="0.24"/>
<circle cx="133.4" cy="344.5" r="0.50" fill="#3a3a3a" opacity="0.38"/>
<circle cx="112.8" cy="309.0" r="0.42" fill="#3a3a3a" opacity="0.35"/>
<circle cx="117.8" cy="292.3" r="0.38" fill="#3a3a3a" opacity="0.24"/>
<circle cx="100.3" cy="346.9" r="0.60" fill="#3a3a3a" opacity="0.22"/>
<circle cx="107.8" cy="344.8" r="0.57" fill="#3a3a3a" opacity="0.43"/>
<circle cx="93.1" cy="340.1" r="0.52" fill="#3a3a3a" opacity="0.56"/>
<circle cx="128.1" cy="294.5" r="0.51" fill="#3a3a3a" opacity="0.51"/>
<circle cx="95.1" cy="327.3" r="0.58" fill="#3a3a3a" opacity="0.58"/>
<circle cx="136.4" cy="310.6" r="0.45" fill="#3a3a3a" opacity="0.37"/>
<circle cx="96.8" cy="345.2" r="0.50" fill="#3a3a3a" opacity="0.52"/>
<circle cx="111.1" cy="312.7" r="0.43" fill="#3a3a3a" opacity="0.34"/>
<circle cx="140.5" cy="322.1" r="0.41" fill="#3a3a3a" opacity="0.40"/>
<circle cx="133.9" cy="311.4" r="0.51" fill="#3a3a3a" opacity="0.34"/>
<circle cx="96.2" cy="338.8" r="0.36" fill="#3a3a3a" opacity="0.47"/>
<circle cx="133.0" cy="297.5" r="0.46" fill="#3a3a3a" opacity="0.45"/>
<circle cx="142.6" cy="326.8" r="0.56" fill="#3a3a3a" opacity="0.41"/>
<circle cx="134.9" cy="346.6" r="0.33" fill="#3a3a3a" opacity="0.49"/>
<circle cx="111.5" cy="352.1" r="0.49" fill="#3a3a3a" opacity="0.40"/>
<circle cx="101.3" cy="330.2" r="0.60" fill="#3a3a3a" opacity="0.42"/>
<circle cx="131.4" cy="323.5" r="0.31" fill="#3a3a3a" opacity="0.27"/>
<circle cx="106.1" cy="353.2" r="0.34" fill="#3a3a3a" opacity="0.41"/>
<circle cx="128.3" cy="310.8" r="0.39" fill="#3a3a3a" opacity="0.28"/>
<circle cx="138.0" cy="335.1" r="0.47" fill="#3a3a3a" opacity="0.29"/>
<circle cx="99.3" cy="318.2" r="0.51" fill="#3a3a3a" opacity="0.30"/>
<circle cx="121.6" cy="353.8" r="0.51" fill="#3a3a3a" opacity="0.50"/>
<circle cx="106.1" cy="345.8" r="0.41" fill="#3a3a3a" opacity="0.47"/>
<circle cx="137.0" cy="321.0" r="0.44" fill="#3a3a3a" opacity="0.48"/>
<circle cx="100.0" cy="328.4" r="0.31" fill="#3a3a3a" opacity="0.53"/>
<circle cx="92.4" cy="326.0" r="0.40" fill="#3a3a3a" opacity="0.55"/>
<circle cx="123.4" cy="308.9" r="0.53" fill="#3a3a3a" opacity="0.22"/>
<circle cx="102.9" cy="302.9" r="0.52" fill="#3a3a3a" opacity="0.32"/>
<circle cx="109.0" cy="340.0" r="0.57" fill="#3a3a3a" opacity="0.44"/>
<circle cx="121.8" cy="302.7" r="0.43" fill="#3a3a3a" opacity="0.58"/>
<circle cx="139.9" cy="315.8" r="0.50" fill="#3a3a3a" opacity="0.56"/>
<circle cx="110.3" cy="343.3" r="0.54" fill="#3a3a3a" opacity="0.47"/>
<circle cx="120.1" cy="297.7" r="0.42" fill="#3a3a3a" opacity="0.25"/>
<circle cx="121.7" cy="294.7" r="0.46" fill="#3a3a3a" opacity="0.33"/>
<circle cx="126.4" cy="311.9" r="0.36" fill="#3a3a3a" opacity="0.43"/>
<circle cx="93.9" cy="331.1" r="0.30" fill="#3a3a3a" opacity="0.57"/>
<circle cx="114.1" cy="347.6" r="0.31" fill="#3a3a3a" opacity="0.35"/>
<circle cx="90.8" cy="326.6" r="0.36" fill="#3a3a3a" opacity="0.25"/>
<circle cx="135.6" cy="302.0" r="0.45" fill="#3a3a3a" opacity="0.41"/>
<circle cx="132.1" cy="310.8" r="0.44" fill="#3a3a3a" opacity="0.37"/>
<circle cx="118.7" cy="344.4" r="0.41" fill="#3a3a3a" opacity="0.23"/>
<circle cx="94.1" cy="333.6" r="0.56" fill="#3a3a3a" opacity="0.25"/>
<circle cx="100.9" cy="347.5" r="0.59" fill="#3a3a3a" opacity="0.33"/>
<circle cx="129.0" cy="350.9" r="0.39" fill="#3a3a3a" opacity="0.46"/>
<circle cx="132.2" cy="318.5" r="0.39" fill="#3a3a3a" opacity="0.43"/>
<circle cx="135.2" cy="338.2" r="0.47" fill="#3a3a3a" opacity="0.37"/>
<circle cx="116.6" cy="298.6" r="0.47" fill="#3a3a3a" opacity="0.53"/>
<circle cx="127.2" cy="339.6" r="0.39" fill="#3a3a3a" opacity="0.27"/>
<circle cx="138.4" cy="308.0" r="0.57" fill="#3a3a3a" opacity="0.36"/>
<circle cx="133.9" cy="299.8" r="0.53" fill="#3a3a3a" opacity="0.54"/>
<circle cx="113.1" cy="313.4" r="0.40" fill="#3a3a3a" opacity="0.30"/>
<circle cx="97.3" cy="322.9" r="0.58" fill="#3a3a3a" opacity="0.30"/>
<circle cx="132.2" cy="325.2" r="0.54" fill="#3a3a3a" opacity="0.33"/>
<circle cx="97.7" cy="317.1" r="0.31" fill="#3a3a3a" opacity="0.43"/>
<circle cx="109.2" cy="310.3" r="0.33" fill="#3a3a3a" opacity="0.44"/>
<circle cx="117.0" cy="342.8" r="0.37" fill="#3a3a3a" opacity="0.43"/>
<circle cx="100.1" cy="331.5" r="0.34" fill="#3a3a3a" opacity="0.29"/>
<circle cx="104.0" cy="312.3" r="0.35" fill="#3a3a3a" opacity="0.53"/>
<circle cx="101.1" cy="321.4" r="0.59" fill="#3a3a3a" opacity="0.42"/>
<circle cx="129.2" cy="344.1" r="0.38" fill="#3a3a3a" opacity="0.54"/>
<circle cx="120.3" cy="311.1" r="0.34" fill="#3a3a3a" opacity="0.47"/>
<circle cx="100.9" cy="327.6" r="0.45" fill="#3a3a3a" opacity="0.26"/>
<circle cx="97.2" cy="332.1" r="0.58" fill="#3a3a3a" opacity="0.44"/>
<circle cx="106.7" cy="320.4" r="0.45" fill="#3a3a3a" opacity="0.43"/>
<circle cx="109.2" cy="309.0" r="0.58" fill="#3a3a3a" opacity="0.48"/>
<circle cx="113.0" cy="292.6" r="0.59" fill="#3a3a3a" opacity="0.25"/>
<circle cx="134.3" cy="312.1" r="0.48" fill="#3a3a3a" opacity="0.21"/>
<circle cx="140.5" cy="338.1" r="0.41" fill="#3a3a3a" opacity="0.59"/>
<circle cx="137.4" cy="319.1" r="0.48" fill="#3a3a3a" opacity="0.44"/>
<circle cx="93.7" cy="320.1" r="0.60" fill="#3a3a3a" opacity="0.33"/>
<circle cx="102.1" cy="337.2" r="0.32" fill="#3a3a3a" opacity="0.26"/>
<circle cx="127.9" cy="349.7" r="0.35" fill="#3a3a3a" opacity="0.44"/>
<circle cx="136.2" cy="324.5" r="0.60" fill="#3a3a3a" opacity="0.30"/>
<circle cx="109.1" cy="339.3" r="0.35" fill="#3a3a3a" opacity="0.36"/>
<circle cx="121.3" cy="299.1" r="0.37" fill="#3a3a3a" opacity="0.23"/>
<circle cx="133.3" cy="335.9" r="0.46" fill="#3a3a3a" opacity="0.20"/>
<rect x="93.8" y="304.1" width="48.8" height="50.4" filter="url(#noise)" opacity="0.22"/>
</g>
<text x="162.3" y="181.2" font-size="12" font-weight="bold" fill="#111" stroke="#111" stroke-width="0.55">D</text>
<line x1="197.6" y1="223" x2="197.6" y2="309.8" stroke="#0a0a0a" stroke-width="1.5"/>
<line x1="195" y1="309.3" x2="344.8" y2="309.3" stroke="#0a0a0a" stroke-width="1.6"/>
<line x1="194.6" y1="226.09999999999997" x2="197.6" y2="226.09999999999997" stroke="#0a0a0a" stroke-width="1.2"/>
<text x="191.6" y="228.99999999999997" font-size="8.4" text-anchor="end" fill="#3a3a3a" stroke="#3a3a3a" stroke-width="0.12">512</text>
<line x1="194.6" y1="234.40999999999997" x2="197.6" y2="234.40999999999997" stroke="#0a0a0a" stroke-width="1.2"/>
<text x="191.6" y="237.30999999999997" font-size="8.4" text-anchor="end" fill="#3a3a3a" stroke="#3a3a3a" stroke-width="0.12">256</text>
<line x1="194.6" y1="242.71999999999997" x2="197.6" y2="242.71999999999997" stroke="#0a0a0a" stroke-width="1.2"/>
<text x="191.6" y="245.61999999999998" font-size="8.4" text-anchor="end" fill="#3a3a3a" stroke="#3a3a3a" stroke-width="0.12">128</text>
<line x1="194.6" y1="251.02999999999997" x2="197.6" y2="251.02999999999997" stroke="#0a0a0a" stroke-width="1.2"/>
<text x="191.6" y="253.92999999999998" font-size="8.4" text-anchor="end" fill="#3a3a3a" stroke="#3a3a3a" stroke-width="0.12">64</text>
<line x1="194.6" y1="259.34" x2="197.6" y2="259.34" stroke="#0a0a0a" stroke-width="1.2"/>
<text x="191.6" y="262.23999999999995" font-size="8.4" text-anchor="end" fill="#3a3a3a" stroke="#3a3a3a" stroke-width="0.12">32</text>
<line x1="194.6" y1="267.65" x2="197.6" y2="267.65" stroke="#0a0a0a" stroke-width="1.2"/>
<text x="191.6" y="270.54999999999995" font-size="8.4" text-anchor="end" fill="#3a3a3a" stroke="#3a3a3a" stroke-width="0.12">16</text>
<line x1="194.6" y1="275.96" x2="197.6" y2="275.96" stroke="#0a0a0a" stroke-width="1.2"/>
<text x="191.6" y="278.85999999999996" font-size="8.4" text-anchor="end" fill="#3a3a3a" stroke="#3a3a3a" stroke-width="0.12">8</text>
<line x1="194.6" y1="284.27" x2="197.6" y2="284.27" stroke="#0a0a0a" stroke-width="1.2"/>
<text x="191.6" y="287.16999999999996" font-size="8.4" text-anchor="end" fill="#3a3a3a" stroke="#3a3a3a" stroke-width="0.12">4</text>
<line x1="194.6" y1="292.58" x2="197.6" y2="292.58" stroke="#0a0a0a" stroke-width="1.2"/>
<text x="191.6" y="295.47999999999996" font-size="8.4" text-anchor="end" fill="#3a3a3a" stroke="#3a3a3a" stroke-width="0.12">2</text>
<line x1="194.6" y1="300.89" x2="197.6" y2="300.89" stroke="#0a0a0a" stroke-width="1.2"/>
<text x="191.6" y="303.78999999999996" font-size="8.4" text-anchor="end" fill="#3a3a3a" stroke="#3a3a3a" stroke-width="0.12">1</text>
<line x1="194.6" y1="309.2" x2="197.6" y2="309.2" stroke="#0a0a0a" stroke-width="1.2"/>
<text x="191.6" y="312.09999999999997" font-size="8.4" text-anchor="end" fill="#3a3a3a" stroke="#3a3a3a" stroke-width="0.12">0.5</text>
<text x="170.6" y="306.8" font-size="8.6" textLength="83" lengthAdjust="spacingAndGlyphs" transform="rotate(-90 170.6 306.8)" fill="#3a3a3a" stroke="#3a3a3a" stroke-width="0.12">#CFUs/500 plated cells</text>
<rect x="235.3" y="203.6" width="8.8" height="3.2" fill="#4b2a7b"/>
<text x="247.10000000000002" y="208.1" font-size="8.4" textLength="7.2" lengthAdjust="spacingAndGlyphs" fill="#3a3a3a" stroke="#3a3a3a" stroke-width="0.12">M</text>
<rect x="265.2" y="203.6" width="8.8" height="3.2" fill="#b8132f"/>
<text x="277.0" y="208.1" font-size="8.4" textLength="13.2" lengthAdjust="spacingAndGlyphs" fill="#3a3a3a" stroke="#3a3a3a" stroke-width="0.12">GM</text>
<rect x="235.3" y="213.6" width="8.8" height="3.2" fill="#86bf58"/>
<text x="247.10000000000002" y="218.1" font-size="8.4" textLength="6.2" lengthAdjust="spacingAndGlyphs" fill="#3a3a3a" stroke="#3a3a3a" stroke-width="0.12">G</text>
<rect x="265.2" y="213.6" width="8.8" height="3.2" fill="#2f5191"/>
<text x="277.0" y="218.1" font-size="8.4" textLength="21" lengthAdjust="spacingAndGlyphs" fill="#3a3a3a" stroke="#3a3a3a" stroke-width="0.12">Blasts</text>
<line x1="203.0" y1="240.4" x2="203.0" y2="243" stroke="#2f5191" stroke-width="1.1"/>
<line x1="201.0" y1="240.4" x2="205.0" y2="240.4" stroke="#2f5191" stroke-width="1.1"/>
<rect x="199.3" y="242.7" width="7.4" height="66.60000000000002" fill="#2f5191"/>
<line x1="214.3" y1="298.9" x2="214.3" y2="309.3" stroke="#4a3a6a" stroke-width="1.1"/>
<line x1="212.3" y1="298.9" x2="216.3" y2="298.9" stroke="#4a3a6a" stroke-width="1.1"/>
<rect x="221.9" y="237.9" width="7.4" height="71.4" fill="#b8132f"/>
<rect x="221.9" y="239.2" width="7.4" height="70.10000000000002" fill="#2f5191"/>
<rect x="233.20000000000002" y="260.3" width="7.4" height="49.0" fill="#b8132f"/>
<rect x="233.20000000000002" y="301.2" width="7.4" height="8.100000000000023" fill="#2f5191"/>
<line x1="236.9" y1="289.5" x2="236.9" y2="301.2" stroke="#8a3050" stroke-width="0.8"/>
<rect x="244.5" y="233.4" width="7.4" height="75.9" fill="#2f5191"/>
<line x1="259.5" y1="238.8" x2="259.5" y2="240" stroke="#b8132f" stroke-width="1.1"/>
<line x1="257.5" y1="238.8" x2="261.5" y2="238.8" stroke="#b8132f" stroke-width="1.1"/>
<rect x="255.8" y="239.8" width="7.4" height="69.5" fill="#b8132f"/>
<rect x="255.8" y="251.5" width="7.4" height="57.80000000000001" fill="#8a2a5a"/>
<rect x="255.8" y="253.5" width="7.4" height="55.80000000000001" fill="#2f5191"/>
<line x1="282.1" y1="238.8" x2="282.1" y2="241" stroke="#8a7a3a" stroke-width="1.1"/>
<line x1="280.1" y1="238.8" x2="284.1" y2="238.8" stroke="#8a7a3a" stroke-width="1.1"/>
<rect x="278.40000000000003" y="240.4" width="7.4" height="68.9" fill="#86bf58"/>
<rect x="278.40000000000003" y="243.4" width="7.4" height="65.9" fill="#b8132f"/>
<rect x="278.40000000000003" y="247" width="7.4" height="62.30000000000001" fill="#2f5191"/>
<line x1="304.7" y1="241.4" x2="304.7" y2="245.5" stroke="#2f5191" stroke-width="1.1"/>
<line x1="302.7" y1="241.4" x2="306.7" y2="241.4" stroke="#2f5191" stroke-width="1.1"/>
<rect x="301.0" y="245.1" width="7.4" height="64.20000000000002" fill="#2f5191"/>
<line x1="327.3" y1="232" x2="327.3" y2="240.5" stroke="#2f5191" stroke-width="1.1"/>
<line x1="325.3" y1="232" x2="329.3" y2="232" stroke="#2f5191" stroke-width="1.1"/>
<rect x="323.6" y="240.2" width="7.4" height="69.10000000000002" fill="#2f5191"/>
<rect x="334.90000000000003" y="263.8" width="7.4" height="45.5" fill="#b8132f"/>
<rect x="334.90000000000003" y="301.3" width="7.4" height="8.0" fill="#2f5191"/>
<line x1="203.0" y1="309.3" x2="203.0" y2="312.3" stroke="#0a0a0a" stroke-width="1.1"/>
<text x="203.0" y="323.7" font-size="8.4" text-anchor="middle" fill="#3a3a3a" stroke="#3a3a3a" stroke-width="0.12">c</text>
<line x1="214.3" y1="309.3" x2="214.3" y2="312.3" stroke="#0a0a0a" stroke-width="1.1"/>
<text x="214.3" y="323.7" font-size="8.4" text-anchor="middle" fill="#3a3a3a" stroke="#3a3a3a" stroke-width="0.12">L</text>
<line x1="225.6" y1="309.3" x2="225.6" y2="312.3" stroke="#0a0a0a" stroke-width="1.1"/>
<text x="225.6" y="323.7" font-size="8.4" text-anchor="middle" fill="#3a3a3a" stroke="#3a3a3a" stroke-width="0.12">c</text>
<line x1="236.9" y1="309.3" x2="236.9" y2="312.3" stroke="#0a0a0a" stroke-width="1.1"/>
<text x="236.9" y="323.7" font-size="8.4" text-anchor="middle" fill="#3a3a3a" stroke="#3a3a3a" stroke-width="0.12">L</text>
<line x1="248.2" y1="309.3" x2="248.2" y2="312.3" stroke="#0a0a0a" stroke-width="1.1"/>
<text x="248.2" y="323.7" font-size="8.4" text-anchor="middle" fill="#3a3a3a" stroke="#3a3a3a" stroke-width="0.12">c</text>
<line x1="259.5" y1="309.3" x2="259.5" y2="312.3" stroke="#0a0a0a" stroke-width="1.1"/>
<text x="259.5" y="323.7" font-size="8.4" text-anchor="middle" fill="#3a3a3a" stroke="#3a3a3a" stroke-width="0.12">L</text>
<line x1="270.8" y1="309.3" x2="270.8" y2="312.3" stroke="#0a0a0a" stroke-width="1.1"/>
<line x1="282.1" y1="309.3" x2="282.1" y2="312.3" stroke="#0a0a0a" stroke-width="1.1"/>
<text x="282.1" y="323.7" font-size="8.4" text-anchor="middle" fill="#3a3a3a" stroke="#3a3a3a" stroke-width="0.12">c</text>
<line x1="293.4" y1="309.3" x2="293.4" y2="312.3" stroke="#0a0a0a" stroke-width="1.1"/>
<text x="293.4" y="323.7" font-size="8.4" text-anchor="middle" fill="#3a3a3a" stroke="#3a3a3a" stroke-width="0.12">L</text>
<line x1="304.7" y1="309.3" x2="304.7" y2="312.3" stroke="#0a0a0a" stroke-width="1.1"/>
<text x="304.7" y="323.7" font-size="8.4" text-anchor="middle" fill="#3a3a3a" stroke="#3a3a3a" stroke-width="0.12">c</text>
<line x1="316.0" y1="309.3" x2="316.0" y2="312.3" stroke="#0a0a0a" stroke-width="1.1"/>
<text x="316.0" y="323.7" font-size="8.4" text-anchor="middle" fill="#3a3a3a" stroke="#3a3a3a" stroke-width="0.12">L</text>
<line x1="327.3" y1="309.3" x2="327.3" y2="312.3" stroke="#0a0a0a" stroke-width="1.1"/>
<text x="327.3" y="323.7" font-size="8.4" text-anchor="middle" fill="#3a3a3a" stroke="#3a3a3a" stroke-width="0.12">c</text>
<line x1="338.6" y1="309.3" x2="338.6" y2="312.3" stroke="#0a0a0a" stroke-width="1.1"/>
<text x="338.6" y="323.7" font-size="8.4" text-anchor="middle" fill="#3a3a3a" stroke="#3a3a3a" stroke-width="0.12">L</text>
<text x="315.6" y="306.1" font-size="6.2" text-anchor="middle" fill="#3a3a3a" stroke="#3a3a3a" stroke-width="0.12">n.p.</text>
<line x1="202.7" y1="328.8" x2="259.7" y2="328.8" stroke="#222" stroke-width="1.9"/>
<line x1="281.9" y1="328.8" x2="338.4" y2="328.8" stroke="#222" stroke-width="1.9"/>
<text x="208.6" y="339.5" font-size="8.6" text-anchor="middle" fill="#3a3a3a" stroke="#3a3a3a" stroke-width="0.12">wt</text>
<text x="231.4" y="339.5" font-size="8.6" text-anchor="middle" fill="#3a3a3a" stroke="#3a3a3a" stroke-width="0.12">het</text>
<text x="253.8" y="339.5" font-size="8.6" text-anchor="middle" fill="#3a3a3a" stroke="#3a3a3a" stroke-width="0.12">KO</text>
<text x="288.2" y="339.5" font-size="8.6" text-anchor="middle" fill="#3a3a3a" stroke="#3a3a3a" stroke-width="0.12">wt</text>
<text x="309.8" y="339.5" font-size="8.6" text-anchor="middle" fill="#3a3a3a" stroke="#3a3a3a" stroke-width="0.12">het</text>
<text x="332.7" y="339.5" font-size="8.6" text-anchor="middle" fill="#3a3a3a" stroke="#3a3a3a" stroke-width="0.12">KO</text>
<text x="231.6" y="352.2" font-size="8.6" text-anchor="middle" textLength="23.5" lengthAdjust="spacingAndGlyphs" fill="#3a3a3a" stroke="#3a3a3a" stroke-width="0.12">1°CFC</text>
<text x="309.8" y="352.2" font-size="8.6" text-anchor="middle" textLength="23.5" lengthAdjust="spacingAndGlyphs" fill="#3a3a3a" stroke="#3a3a3a" stroke-width="0.12">2°CFC</text>
<text x="365" y="181.2" font-size="12" font-weight="bold" fill="#111" stroke="#111" stroke-width="0.55">E</text>
<text x="370.6" y="210.3" font-size="8.6" textLength="37.5" lengthAdjust="spacingAndGlyphs" fill="#3a3a3a" stroke="#3a3a3a" stroke-width="0.12">PU.1 URE</text>
<text x="389.8" y="220.4" font-size="8.6" text-anchor="middle" fill="#3a3a3a" stroke="#3a3a3a" stroke-width="0.12">het</text>
<text x="424.9" y="210.3" font-size="8.6" textLength="37.5" lengthAdjust="spacingAndGlyphs" fill="#3a3a3a" stroke="#3a3a3a" stroke-width="0.12">PU.1 URE</text>
<text x="443.3" y="220.4" font-size="8.6" text-anchor="middle" fill="#3a3a3a" stroke="#3a3a3a" stroke-width="0.12">KO</text>
<text x="473" y="256.6" font-size="8.6" textLength="12.4" lengthAdjust="spacingAndGlyphs" fill="#3a3a3a" stroke="#3a3a3a" stroke-width="0.12">ctrl</text>
<text x="472.3" y="310.8" font-size="8.6" textLength="23" lengthAdjust="spacingAndGlyphs" fill="#3a3a3a" stroke="#3a3a3a" stroke-width="0.12">LSD1i</text>
<g clip-path="url(#ec0)">
<rect x="365" y="226.6" width="49.4" height="49.8" fill="#d6d89c"/>
<g filter="url(#b1)">
<ellipse cx="400" cy="232" rx="14" ry="7" fill="#dedcb4" opacity="1" transform="rotate(0 400 232)"/>
<ellipse cx="372" cy="270" rx="8" ry="8" fill="#70aa94" opacity="0.9" transform="rotate(0 372 270)"/>
<ellipse cx="393" cy="273" rx="10" ry="5" fill="#c0dcd0" opacity="0.95" transform="rotate(0 393 273)"/>
<ellipse cx="379" cy="249" rx="13" ry="7" fill="#5c4c8e" opacity="0.95" transform="rotate(-30 379 249)"/>
<ellipse cx="389" cy="238" rx="7" ry="8" fill="#8c2e76" stroke="#5a4a8a" stroke-width="1.2" opacity="1" transform="rotate(0 389 238)"/>
<ellipse cx="373" cy="254" rx="9" ry="8" fill="#8a2c72" stroke="#5a4a8a" stroke-width="1.2" opacity="1" transform="rotate(0 373 254)"/>
<ellipse cx="386" cy="254" rx="9" ry="9" fill="#862a6c" stroke="#4a4080" stroke-width="1.2" opacity="1" transform="rotate(0 386 254)"/>
<ellipse cx="402" cy="250" rx="8" ry="8" fill="#8c2e76" stroke="#6a5a9a" stroke-width="1.2" opacity="1" transform="rotate(0 402 250)"/>
<ellipse cx="410" cy="264" rx="6" ry="11" fill="#8c2e76" stroke="#6a5a9a" stroke-width="1.2" opacity="1" transform="rotate(10 410 264)"/>
<ellipse cx="371" cy="268" rx="6" ry="6" fill="#983078" opacity="1" transform="rotate(0 371 268)"/>
<ellipse cx="382" cy="266" rx="5" ry="6" fill="#8c2e76" opacity="1" transform="rotate(0 382 266)"/>
<ellipse cx="401" cy="268" rx="6" ry="6" fill="#863a7a" opacity="1" transform="rotate(0 401 268)"/>
<ellipse cx="392.6" cy="263.5" rx="4" ry="4.5" fill="#2a1a2e" opacity="1" transform="rotate(0 392.6 263.5)"/>
<ellipse cx="386" cy="232" rx="6" ry="4" fill="#5a4a8a" opacity="0.8" transform="rotate(0 386 232)"/>
<ellipse cx="398" cy="259" rx="3" ry="3" fill="#6a7aa8" opacity="0.8" transform="rotate(0 398 259)"/>
</g>
<rect x="365" y="226.6" width="49.4" height="49.8" filter="url(#noiseW)" opacity="0.18"/>
</g>
<rect x="365" y="226.6" width="49.4" height="49.8" fill="none" stroke="#1a1a1a" stroke-width="1.6"/>
<rect x="365" y="226.6" width="49.4" height="49.8" filter="url(#noise)" opacity="0.12"/>
<g clip-path="url(#ec1)">
<rect x="418.2" y="226.6" width="50.6" height="49.8" fill="#5e4488"/>
<g filter="url(#b1)">
<ellipse cx="421" cy="244" rx="8" ry="21" fill="#d6dca4" opacity="0.95" transform="rotate(0 421 244)"/>
<ellipse cx="437" cy="235" rx="9" ry="8" fill="#8c2e76" stroke="#3a3478" stroke-width="1.2" opacity="1" transform="rotate(0 437 235)"/>
<ellipse cx="455" cy="232" rx="9" ry="7" fill="#983080" stroke="#3a3478" stroke-width="1.2" opacity="1" transform="rotate(0 455 232)"/>
<ellipse cx="466" cy="237" rx="5" ry="8" fill="#8c2e76" stroke="#3a3478" stroke-width="1.2" opacity="1" transform="rotate(0 466 237)"/>
<ellipse cx="428" cy="252" rx="7" ry="8" fill="#922c7a" stroke="#3a3478" stroke-width="1.2" opacity="1" transform="rotate(0 428 252)"/>
<ellipse cx="442" cy="246" rx="6" ry="5" fill="#3a3478" opacity="1" transform="rotate(0 442 246)"/>
<ellipse cx="460" cy="249" rx="8" ry="8" fill="#8c2e76" stroke="#3a3478" stroke-width="1.2" opacity="1" transform="rotate(0 460 249)"/>
<ellipse cx="448" cy="264" rx="9" ry="8" fill="#9a3080" stroke="#3a3478" stroke-width="1.2" opacity="1" transform="rotate(0 448 264)"/>
<ellipse cx="432" cy="272" rx="8" ry="6" fill="#84307a" stroke="#3a3478" stroke-width="1.2" opacity="1" transform="rotate(0 432 272)"/>
<ellipse cx="463" cy="272" rx="7" ry="6" fill="#8c2e76" stroke="#3a3478" stroke-width="1.2" opacity="1" transform="rotate(0 463 272)"/>
<ellipse cx="447" cy="241" rx="3.5" ry="3" fill="#d6dae8" opacity="0.9" transform="rotate(0 447 241)"/>
<ellipse cx="436" cy="259" rx="3" ry="3" fill="#d0d6e4" opacity="0.85" transform="rotate(0 436 259)"/>
<ellipse cx="457" cy="255" rx="3" ry="2.5" fill="#c8d0e0" opacity="0.85" transform="rotate(0 457 255)"/>
<ellipse cx="422" cy="270" rx="3" ry="4" fill="#e4e8ee" opacity="0.8" transform="rotate(0 422 270)"/>
<ellipse cx="443" cy="275" rx="3" ry="2" fill="#d8dce8" opacity="0.8" transform="rotate(0 443 275)"/>
</g>
<rect x="418.2" y="226.6" width="50.6" height="49.8" filter="url(#noiseW)" opacity="0.3"/>
</g>
<rect x="418.2" y="226.6" width="50.6" height="49.8" fill="none" stroke="#1a1a1a" stroke-width="1.6"/>
<rect x="418.2" y="226.6" width="50.6" height="49.8" filter="url(#noise)" opacity="0.15"/>
<g clip-path="url(#ec2)">
<rect x="365" y="282.1" width="49.4" height="53.3" fill="#d9cfc0"/>
<g filter="url(#b1)">
<ellipse cx="377" cy="305" rx="11" ry="14" fill="#e0d8c8" stroke="#9a8a98" stroke-width="1.3" opacity="0.95" transform="rotate(0 377 305)"/>
<ellipse cx="396" cy="299" rx="11" ry="10" fill="#d8c8c4" stroke="#9a8aa0" stroke-width="1.3" opacity="0.9" transform="rotate(0 396 299)"/>
<ellipse cx="393" cy="325" rx="11" ry="10" fill="#d4c8c4" stroke="#8e8aa8" stroke-width="1.3" opacity="0.9" transform="rotate(0 393 325)"/>
<ellipse cx="388" cy="312" rx="6" ry="5" fill="#c0a0b0" opacity="0.6" transform="rotate(0 388 312)"/>
<ellipse cx="397.2" cy="298.3" rx="7.5" ry="7" fill="#901c5e" opacity="1" transform="rotate(0 397.2 298.3)"/>
<ellipse cx="378.4" cy="310.6" rx="6.5" ry="5.5" fill="#981e60" opacity="1" transform="rotate(0 378.4 310.6)"/>
<ellipse cx="393.6" cy="325.3" rx="6.5" ry="6.5" fill="#901c5e" opacity="1" transform="rotate(0 393.6 325.3)"/>
<ellipse cx="404.2" cy="309.5" rx="4" ry="5.5" fill="#6a5a9a" opacity="0.85" transform="rotate(0 404.2 309.5)"/>
<ellipse cx="411" cy="300" rx="3" ry="8" fill="#a03060" opacity="0.85" transform="rotate(0 411 300)"/>
<ellipse cx="383" cy="320" rx="4" ry="3" fill="#8a8aa8" opacity="0.5" transform="rotate(0 383 320)"/>
</g>
<rect x="365" y="282.1" width="49.4" height="53.3" filter="url(#noiseW)" opacity="0.15"/>
</g>
<rect x="365" y="282.1" width="49.4" height="53.3" fill="none" stroke="#1a1a1a" stroke-width="1.6"/>
<rect x="365" y="282.1" width="49.4" height="53.3" filter="url(#noise)" opacity="0.1"/>
<rect x="366.7" y="331.5" width="14" height="1.7" fill="#111"/>
<g clip-path="url(#ec3)">
<rect x="418.2" y="282.1" width="50.6" height="53.3" fill="#b0b6cc"/>
<g filter="url(#b1)">
<ellipse cx="424" cy="305" rx="6" ry="22" fill="#c4a4c4" opacity="0.85" transform="rotate(0 424 305)"/>
<ellipse cx="423" cy="292" rx="3" ry="5" fill="#a84a8a" opacity="0.8" transform="rotate(0 423 292)"/>
<ellipse cx="426" cy="318" rx="4" ry="4" fill="#984070" opacity="0.8" transform="rotate(0 426 318)"/>
<ellipse cx="446" cy="290" rx="10" ry="9" fill="#c4c8d8" stroke="#3a3a80" stroke-width="1" opacity="1" transform="rotate(0 446 290)"/>
<ellipse cx="446" cy="309" rx="9.5" ry="9" fill="#bcc4d8" stroke="#3a3a80" stroke-width="1" opacity="1" transform="rotate(0 446 309)"/>
<ellipse cx="460" cy="302" rx="8" ry="8" fill="#c0c6d8" stroke="#3a3a80" stroke-width="1" opacity="1" transform="rotate(0 460 302)"/>
<ellipse cx="458" cy="319" rx="8.5" ry="8" fill="#bcc2d6" stroke="#3a3a80" stroke-width="1" opacity="1" transform="rotate(0 458 319)"/>
<ellipse cx="446" cy="289" rx="6.5" ry="6" fill="#7e3c98" opacity="1" transform="rotate(0 446 289)"/>
<ellipse cx="446" cy="308.9" rx="6" ry="6" fill="#72309a" opacity="1" transform="rotate(0 446 308.9)"/>
<ellipse cx="460.1" cy="301.9" rx="5.5" ry="5.5" fill="#80389a" opacity="1" transform="rotate(0 460.1 301.9)"/>
<ellipse cx="457.8" cy="318.3" rx="5.5" ry="5.5" fill="#8a3a9a" opacity="1" transform="rotate(0 457.8 318.3)"/>
<ellipse cx="444.3" cy="330" rx="8" ry="5" fill="#8e3a88" opacity="1" transform="rotate(0 444.3 330)"/>
<ellipse cx="435" cy="300" rx="3" ry="9" fill="#3a3478" opacity="0.8" transform="rotate(0 435 300)"/>
</g>
<rect x="418.2" y="282.1" width="50.6" height="53.3" filter="url(#noiseW)" opacity="0.2"/>
</g>
<rect x="418.2" y="282.1" width="50.6" height="53.3" fill="none" stroke="#1a1a1a" stroke-width="1.6"/>
<rect x="418.2" y="282.1" width="50.6" height="53.3" filter="url(#noise)" opacity="0.12"/>
<text x="7.8" y="370.6" font-size="12" font-weight="bold" fill="#111" stroke="#111" stroke-width="0.55">F</text>
<rect x="95" y="396.8" width="29" height="76.59999999999997" fill="#c7c7cb"/>
<line x1="43.4" y1="389.2" x2="43.4" y2="474.2" stroke="#0a0a0a" stroke-width="1.5"/>
<line x1="40.0" y1="473.6" x2="171.4" y2="473.6" stroke="#0a0a0a" stroke-width="1.6"/>
<line x1="40.0" y1="473.4" x2="43.4" y2="473.4" stroke="#0a0a0a" stroke-width="1.2"/>
<text x="37.1" y="476.29999999999995" font-size="8.2" text-anchor="end" fill="#3a3a3a" stroke="#3a3a3a" stroke-width="0.12">0</text>
<line x1="40.0" y1="454.2" x2="43.4" y2="454.2" stroke="#0a0a0a" stroke-width="1.2"/>
<text x="37.1" y="457.09999999999997" font-size="8.2" text-anchor="end" fill="#3a3a3a" stroke="#3a3a3a" stroke-width="0.12">25</text>
<line x1="40.0" y1="435.0" x2="43.4" y2="435.0" stroke="#0a0a0a" stroke-width="1.2"/>
<text x="37.1" y="437.9" font-size="8.2" text-anchor="end" fill="#3a3a3a" stroke="#3a3a3a" stroke-width="0.12">50</text>
<line x1="40.0" y1="415.79999999999995" x2="43.4" y2="415.79999999999995" stroke="#0a0a0a" stroke-width="1.2"/>
<text x="37.1" y="418.69999999999993" font-size="8.2" text-anchor="end" fill="#3a3a3a" stroke="#3a3a3a" stroke-width="0.12">75</text>
<line x1="40.0" y1="396.59999999999997" x2="43.4" y2="396.59999999999997" stroke="#0a0a0a" stroke-width="1.2"/>
<text x="37.1" y="399.49999999999994" font-size="8.2" text-anchor="end" fill="#3a3a3a" stroke="#3a3a3a" stroke-width="0.12">100</text>
<line x1="43.4" y1="473.6" x2="43.4" y2="476.8" stroke="#0a0a0a" stroke-width="1.1"/>
<text x="43.4" y="486.8" font-size="8.2" text-anchor="middle" fill="#3a3a3a" stroke="#3a3a3a" stroke-width="0.12">0</text>
<line x1="56.099999999999994" y1="473.6" x2="56.099999999999994" y2="476.8" stroke="#0a0a0a" stroke-width="1.1"/>
<text x="56.099999999999994" y="486.8" font-size="8.2" text-anchor="middle" fill="#3a3a3a" stroke="#3a3a3a" stroke-width="0.12">5</text>
<line x1="68.8" y1="473.6" x2="68.8" y2="476.8" stroke="#0a0a0a" stroke-width="1.1"/>
<text x="68.8" y="486.8" font-size="8.2" text-anchor="middle" fill="#3a3a3a" stroke="#3a3a3a" stroke-width="0.12">10</text>
<line x1="81.5" y1="473.6" x2="81.5" y2="476.8" stroke="#0a0a0a" stroke-width="1.1"/>
<text x="81.5" y="486.8" font-size="8.2" text-anchor="middle" fill="#3a3a3a" stroke="#3a3a3a" stroke-width="0.12">15</text>
<line x1="94.19999999999999" y1="473.6" x2="94.19999999999999" y2="476.8" stroke="#0a0a0a" stroke-width="1.1"/>
<text x="94.19999999999999" y="486.8" font-size="8.2" text-anchor="middle" fill="#3a3a3a" stroke="#3a3a3a" stroke-width="0.12">20</text>
<line x1="106.9" y1="473.6" x2="106.9" y2="476.8" stroke="#0a0a0a" stroke-width="1.1"/>
<text x="106.9" y="486.8" font-size="8.2" text-anchor="middle" fill="#3a3a3a" stroke="#3a3a3a" stroke-width="0.12">25</text>
<line x1="119.6" y1="473.6" x2="119.6" y2="476.8" stroke="#0a0a0a" stroke-width="1.1"/>
<text x="119.6" y="486.8" font-size="8.2" text-anchor="middle" fill="#3a3a3a" stroke="#3a3a3a" stroke-width="0.12">30</text>
<line x1="132.3" y1="473.6" x2="132.3" y2="476.8" stroke="#0a0a0a" stroke-width="1.1"/>
<text x="132.3" y="486.8" font-size="8.2" text-anchor="middle" fill="#3a3a3a" stroke="#3a3a3a" stroke-width="0.12">35</text>
<line x1="145.0" y1="473.6" x2="145.0" y2="476.8" stroke="#0a0a0a" stroke-width="1.1"/>
<text x="145.0" y="486.8" font-size="8.2" text-anchor="middle" fill="#3a3a3a" stroke="#3a3a3a" stroke-width="0.12">40</text>
<line x1="157.7" y1="473.6" x2="157.7" y2="476.8" stroke="#0a0a0a" stroke-width="1.1"/>
<text x="157.7" y="486.8" font-size="8.2" text-anchor="middle" fill="#3a3a3a" stroke="#3a3a3a" stroke-width="0.12">45</text>
<line x1="170.4" y1="473.6" x2="170.4" y2="476.8" stroke="#0a0a0a" stroke-width="1.1"/>
<text x="170.4" y="486.8" font-size="8.2" text-anchor="middle" fill="#3a3a3a" stroke="#3a3a3a" stroke-width="0.12">50</text>
<text x="79.2" y="383.1" font-size="10" textLength="58" lengthAdjust="spacingAndGlyphs" fill="#2a2a2a" stroke="#2a2a2a" stroke-width="0.12">PU1. URE wt</text>
<text x="63" y="501.6" font-size="10.2" textLength="91.5" lengthAdjust="spacingAndGlyphs" fill="#3a3a3a" stroke="#3a3a3a" stroke-width="0.12">Days post transplantation</text>
<text x="16.4" y="459.1" font-size="10" textLength="56.6" lengthAdjust="spacingAndGlyphs" transform="rotate(-90 16.4 459.1)" fill="#3a3a3a" stroke="#3a3a3a" stroke-width="0.12">Percent survival</text>
<text x="55.7" y="438" font-size="8.4" textLength="30.800000000000004" lengthAdjust="spacingAndGlyphs" fill="#3a3a3a" stroke="#3a3a3a" stroke-width="0.12">p=0.040</text>
<polyline points="43.4,396.6 104.8,396.6 104.8,412.0 152.3,412.0 152.3,458.0 154.8,458.0 154.8,473.4" fill="none" stroke="#b5173f" stroke-width="1.5" stroke-linejoin="round" stroke-linejoin="miter"/>
<polyline points="43.4,396.6 111.8,396.6 111.8,458.0 119.6,458.0 119.6,473.4" fill="none" stroke="#3a4f8f" stroke-width="1.5" stroke-linejoin="round" stroke-linejoin="miter"/>
<line x1="135.3" y1="393.3" x2="143.5" y2="393.3" stroke="#3a4f8f" stroke-width="1.4"/>
<line x1="139.4" y1="391.5" x2="139.4" y2="393.3" stroke="#3a4f8f" stroke-width="1.2"/>
<text x="147.4" y="394.90000000000003" font-size="8.4" textLength="11.5" lengthAdjust="spacingAndGlyphs" fill="#3a3a3a" stroke="#3a3a3a" stroke-width="0.12">ctrl</text>
<line x1="135.3" y1="403" x2="143.5" y2="403" stroke="#b5173f" stroke-width="1.4"/>
<line x1="139.4" y1="401.2" x2="139.4" y2="403" stroke="#b5173f" stroke-width="1.2"/>
<text x="147.4" y="404.6" font-size="8.4" textLength="20.5" lengthAdjust="spacingAndGlyphs" fill="#3a3a3a" stroke="#3a3a3a" stroke-width="0.12">LSD1i</text>
<rect x="255" y="396.8" width="29" height="76.59999999999997" fill="#c7c7cb"/>
<line x1="203.3" y1="389.2" x2="203.3" y2="474.2" stroke="#0a0a0a" stroke-width="1.5"/>
<line x1="199.9" y1="473.6" x2="331.3" y2="473.6" stroke="#0a0a0a" stroke-width="1.6"/>
<line x1="199.9" y1="473.4" x2="203.3" y2="473.4" stroke="#0a0a0a" stroke-width="1.2"/>
<text x="197.0" y="476.29999999999995" font-size="8.2" text-anchor="end" fill="#3a3a3a" stroke="#3a3a3a" stroke-width="0.12">0</text>
<line x1="199.9" y1="454.2" x2="203.3" y2="454.2" stroke="#0a0a0a" stroke-width="1.2"/>
<text x="197.0" y="457.09999999999997" font-size="8.2" text-anchor="end" fill="#3a3a3a" stroke="#3a3a3a" stroke-width="0.12">25</text>
<line x1="199.9" y1="435.0" x2="203.3" y2="435.0" stroke="#0a0a0a" stroke-width="1.2"/>
<text x="197.0" y="437.9" font-size="8.2" text-anchor="end" fill="#3a3a3a" stroke="#3a3a3a" stroke-width="0.12">50</text>
<line x1="199.9" y1="415.79999999999995" x2="203.3" y2="415.79999999999995" stroke="#0a0a0a" stroke-width="1.2"/>
<text x="197.0" y="418.69999999999993" font-size="8.2" text-anchor="end" fill="#3a3a3a" stroke="#3a3a3a" stroke-width="0.12">75</text>
<line x1="199.9" y1="396.59999999999997" x2="203.3" y2="396.59999999999997" stroke="#0a0a0a" stroke-width="1.2"/>
<text x="197.0" y="399.49999999999994" font-size="8.2" text-anchor="end" fill="#3a3a3a" stroke="#3a3a3a" stroke-width="0.12">100</text>
<line x1="203.3" y1="473.6" x2="203.3" y2="476.8" stroke="#0a0a0a" stroke-width="1.1"/>
<text x="203.3" y="486.8" font-size="8.2" text-anchor="middle" fill="#3a3a3a" stroke="#3a3a3a" stroke-width="0.12">0</text>
<line x1="216.0" y1="473.6" x2="216.0" y2="476.8" stroke="#0a0a0a" stroke-width="1.1"/>
<text x="216.0" y="486.8" font-size="8.2" text-anchor="middle" fill="#3a3a3a" stroke="#3a3a3a" stroke-width="0.12">5</text>
<line x1="228.70000000000002" y1="473.6" x2="228.70000000000002" y2="476.8" stroke="#0a0a0a" stroke-width="1.1"/>
<text x="228.70000000000002" y="486.8" font-size="8.2" text-anchor="middle" fill="#3a3a3a" stroke="#3a3a3a" stroke-width="0.12">10</text>
<line x1="241.4" y1="473.6" x2="241.4" y2="476.8" stroke="#0a0a0a" stroke-width="1.1"/>
<text x="241.4" y="486.8" font-size="8.2" text-anchor="middle" fill="#3a3a3a" stroke="#3a3a3a" stroke-width="0.12">15</text>
<line x1="254.10000000000002" y1="473.6" x2="254.10000000000002" y2="476.8" stroke="#0a0a0a" stroke-width="1.1"/>
<text x="254.10000000000002" y="486.8" font-size="8.2" text-anchor="middle" fill="#3a3a3a" stroke="#3a3a3a" stroke-width="0.12">20</text>
<line x1="266.8" y1="473.6" x2="266.8" y2="476.8" stroke="#0a0a0a" stroke-width="1.1"/>
<text x="266.8" y="486.8" font-size="8.2" text-anchor="middle" fill="#3a3a3a" stroke="#3a3a3a" stroke-width="0.12">25</text>
<line x1="279.5" y1="473.6" x2="279.5" y2="476.8" stroke="#0a0a0a" stroke-width="1.1"/>
<text x="279.5" y="486.8" font-size="8.2" text-anchor="middle" fill="#3a3a3a" stroke="#3a3a3a" stroke-width="0.12">30</text>
<line x1="292.20000000000005" y1="473.6" x2="292.20000000000005" y2="476.8" stroke="#0a0a0a" stroke-width="1.1"/>
<text x="292.20000000000005" y="486.8" font-size="8.2" text-anchor="middle" fill="#3a3a3a" stroke="#3a3a3a" stroke-width="0.12">35</text>
<line x1="304.9" y1="473.6" x2="304.9" y2="476.8" stroke="#0a0a0a" stroke-width="1.1"/>
<text x="304.9" y="486.8" font-size="8.2" text-anchor="middle" fill="#3a3a3a" stroke="#3a3a3a" stroke-width="0.12">40</text>
<line x1="317.6" y1="473.6" x2="317.6" y2="476.8" stroke="#0a0a0a" stroke-width="1.1"/>
<text x="317.6" y="486.8" font-size="8.2" text-anchor="middle" fill="#3a3a3a" stroke="#3a3a3a" stroke-width="0.12">45</text>
<line x1="330.3" y1="473.6" x2="330.3" y2="476.8" stroke="#0a0a0a" stroke-width="1.1"/>
<text x="330.3" y="486.8" font-size="8.2" text-anchor="middle" fill="#3a3a3a" stroke="#3a3a3a" stroke-width="0.12">50</text>
<text x="237.1" y="383.1" font-size="10" textLength="63" lengthAdjust="spacingAndGlyphs" fill="#2a2a2a" stroke="#2a2a2a" stroke-width="0.12">PU1. URE het</text>
<text x="221.9" y="501.6" font-size="10.2" textLength="91.5" lengthAdjust="spacingAndGlyphs" fill="#3a3a3a" stroke="#3a3a3a" stroke-width="0.12">Days post transplantation</text>
<text x="215.60000000000002" y="438" font-size="8.4" textLength="26.400000000000002" lengthAdjust="spacingAndGlyphs" fill="#3a3a3a" stroke="#3a3a3a" stroke-width="0.12">p=0.35</text>
<polyline points="203.3,396.6 271.6,396.6 271.6,412.0 286.9,412.0 286.9,473.4" fill="none" stroke="#b5173f" stroke-width="1.5" stroke-linejoin="round" stroke-linejoin="miter"/>
<polyline points="203.3,396.6 282.0,396.6 282.0,442.7 286.9,442.7 286.9,473.4" fill="none" stroke="#3a4f8f" stroke-width="1.5" stroke-linejoin="round" stroke-linejoin="miter"/>
<line x1="297" y1="393.3" x2="305.2" y2="393.3" stroke="#3a4f8f" stroke-width="1.4"/>
<line x1="301.1" y1="391.5" x2="301.1" y2="393.3" stroke="#3a4f8f" stroke-width="1.2"/>
<text x="309.1" y="394.90000000000003" font-size="8.4" textLength="11.5" lengthAdjust="spacingAndGlyphs" fill="#3a3a3a" stroke="#3a3a3a" stroke-width="0.12">ctrl</text>
<line x1="297" y1="403" x2="305.2" y2="403" stroke="#b5173f" stroke-width="1.4"/>
<line x1="301.1" y1="401.2" x2="301.1" y2="403" stroke="#b5173f" stroke-width="1.2"/>
<text x="309.1" y="404.6" font-size="8.4" textLength="20.5" lengthAdjust="spacingAndGlyphs" fill="#3a3a3a" stroke="#3a3a3a" stroke-width="0.12">LSD1i</text>
<rect x="428.9" y="396.8" width="29.30000000000001" height="76.59999999999997" fill="#c7c7cb"/>
<line x1="377.6" y1="389.2" x2="377.6" y2="474.2" stroke="#0a0a0a" stroke-width="1.5"/>
<line x1="374.20000000000005" y1="473.6" x2="505.6" y2="473.6" stroke="#0a0a0a" stroke-width="1.6"/>
<line x1="374.20000000000005" y1="473.4" x2="377.6" y2="473.4" stroke="#0a0a0a" stroke-width="1.2"/>
<text x="371.3" y="476.29999999999995" font-size="8.2" text-anchor="end" fill="#3a3a3a" stroke="#3a3a3a" stroke-width="0.12">0</text>
<line x1="374.20000000000005" y1="454.2" x2="377.6" y2="454.2" stroke="#0a0a0a" stroke-width="1.2"/>
<text x="371.3" y="457.09999999999997" font-size="8.2" text-anchor="end" fill="#3a3a3a" stroke="#3a3a3a" stroke-width="0.12">25</text>
<line x1="374.20000000000005" y1="435.0" x2="377.6" y2="435.0" stroke="#0a0a0a" stroke-width="1.2"/>
<text x="371.3" y="437.9" font-size="8.2" text-anchor="end" fill="#3a3a3a" stroke="#3a3a3a" stroke-width="0.12">50</text>
<line x1="374.20000000000005" y1="415.79999999999995" x2="377.6" y2="415.79999999999995" stroke="#0a0a0a" stroke-width="1.2"/>
<text x="371.3" y="418.69999999999993" font-size="8.2" text-anchor="end" fill="#3a3a3a" stroke="#3a3a3a" stroke-width="0.12">75</text>
<line x1="374.20000000000005" y1="396.59999999999997" x2="377.6" y2="396.59999999999997" stroke="#0a0a0a" stroke-width="1.2"/>
<text x="371.3" y="399.49999999999994" font-size="8.2" text-anchor="end" fill="#3a3a3a" stroke="#3a3a3a" stroke-width="0.12">100</text>
<line x1="377.6" y1="473.6" x2="377.6" y2="476.8" stroke="#0a0a0a" stroke-width="1.1"/>
<text x="377.6" y="486.8" font-size="8.2" text-anchor="middle" fill="#3a3a3a" stroke="#3a3a3a" stroke-width="0.12">0</text>
<line x1="390.3" y1="473.6" x2="390.3" y2="476.8" stroke="#0a0a0a" stroke-width="1.1"/>
<text x="390.3" y="486.8" font-size="8.2" text-anchor="middle" fill="#3a3a3a" stroke="#3a3a3a" stroke-width="0.12">5</text>
<line x1="403.0" y1="473.6" x2="403.0" y2="476.8" stroke="#0a0a0a" stroke-width="1.1"/>
<text x="403.0" y="486.8" font-size="8.2" text-anchor="middle" fill="#3a3a3a" stroke="#3a3a3a" stroke-width="0.12">10</text>
<line x1="415.70000000000005" y1="473.6" x2="415.70000000000005" y2="476.8" stroke="#0a0a0a" stroke-width="1.1"/>
<text x="415.70000000000005" y="486.8" font-size="8.2" text-anchor="middle" fill="#3a3a3a" stroke="#3a3a3a" stroke-width="0.12">15</text>
<line x1="428.40000000000003" y1="473.6" x2="428.40000000000003" y2="476.8" stroke="#0a0a0a" stroke-width="1.1"/>
<text x="428.40000000000003" y="486.8" font-size="8.2" text-anchor="middle" fill="#3a3a3a" stroke="#3a3a3a" stroke-width="0.12">20</text>
<line x1="441.1" y1="473.6" x2="441.1" y2="476.8" stroke="#0a0a0a" stroke-width="1.1"/>
<text x="441.1" y="486.8" font-size="8.2" text-anchor="middle" fill="#3a3a3a" stroke="#3a3a3a" stroke-width="0.12">25</text>
<line x1="453.8" y1="473.6" x2="453.8" y2="476.8" stroke="#0a0a0a" stroke-width="1.1"/>
<text x="453.8" y="486.8" font-size="8.2" text-anchor="middle" fill="#3a3a3a" stroke="#3a3a3a" stroke-width="0.12">30</text>
<line x1="466.5" y1="473.6" x2="466.5" y2="476.8" stroke="#0a0a0a" stroke-width="1.1"/>
<text x="466.5" y="486.8" font-size="8.2" text-anchor="middle" fill="#3a3a3a" stroke="#3a3a3a" stroke-width="0.12">35</text>
<line x1="479.20000000000005" y1="473.6" x2="479.20000000000005" y2="476.8" stroke="#0a0a0a" stroke-width="1.1"/>
<text x="479.20000000000005" y="486.8" font-size="8.2" text-anchor="middle" fill="#3a3a3a" stroke="#3a3a3a" stroke-width="0.12">40</text>
<line x1="491.90000000000003" y1="473.6" x2="491.90000000000003" y2="476.8" stroke="#0a0a0a" stroke-width="1.1"/>
<text x="491.90000000000003" y="486.8" font-size="8.2" text-anchor="middle" fill="#3a3a3a" stroke="#3a3a3a" stroke-width="0.12">45</text>
<line x1="504.6" y1="473.6" x2="504.6" y2="476.8" stroke="#0a0a0a" stroke-width="1.1"/>
<text x="504.6" y="486.8" font-size="8.2" text-anchor="middle" fill="#3a3a3a" stroke="#3a3a3a" stroke-width="0.12">50</text>
<text x="411.4" y="383.1" font-size="10" textLength="62" lengthAdjust="spacingAndGlyphs" fill="#2a2a2a" stroke="#2a2a2a" stroke-width="0.12">PU1. URE KO</text>
<text x="397.1" y="501.6" font-size="10.2" textLength="91.5" lengthAdjust="spacingAndGlyphs" fill="#3a3a3a" stroke="#3a3a3a" stroke-width="0.12">Days post transplantation</text>
<text x="350.6" y="459.1" font-size="10" textLength="56.6" lengthAdjust="spacingAndGlyphs" transform="rotate(-90 350.6 459.1)" fill="#3a3a3a" stroke="#3a3a3a" stroke-width="0.12">Percent survival</text>
<text x="389.90000000000003" y="438" font-size="8.4" textLength="26.400000000000002" lengthAdjust="spacingAndGlyphs" fill="#3a3a3a" stroke="#3a3a3a" stroke-width="0.12">p=0.66</text>
<polyline points="377.6,396.6 471.5,396.6 471.5,412.0 478.8,412.0 478.8,442.7 484.2,442.7 484.2,473.4" fill="none" stroke="#b5173f" stroke-width="1.5" stroke-linejoin="round" stroke-linejoin="miter"/>
<polyline points="377.6,396.6 474.0,396.6 474.0,412.0 478.8,412.0 478.8,427.3 484.2,427.3 484.2,473.4" fill="none" stroke="#3a4f8f" stroke-width="1.5" stroke-linejoin="round" stroke-linejoin="miter"/>
<line x1="479.3" y1="393.3" x2="487.5" y2="393.3" stroke="#3a4f8f" stroke-width="1.4"/>
<line x1="483.40000000000003" y1="391.5" x2="483.40000000000003" y2="393.3" stroke="#3a4f8f" stroke-width="1.2"/>
<text x="491.40000000000003" y="394.90000000000003" font-size="8.4" textLength="11.5" lengthAdjust="spacingAndGlyphs" fill="#3a3a3a" stroke="#3a3a3a" stroke-width="0.12">ctrl</text>
<line x1="479.3" y1="403" x2="487.5" y2="403" stroke="#b5173f" stroke-width="1.4"/>
<line x1="483.40000000000003" y1="401.2" x2="483.40000000000003" y2="403" stroke="#b5173f" stroke-width="1.2"/>
<text x="491.40000000000003" y="404.6" font-size="8.4" textLength="20.5" lengthAdjust="spacingAndGlyphs" fill="#3a3a3a" stroke="#3a3a3a" stroke-width="0.12">LSD1i</text>
<rect x="0.75" y="0.75" width="518.5" height="510.5" fill="none" stroke="#000" stroke-width="1.8"/>
</svg>
</body></html>
